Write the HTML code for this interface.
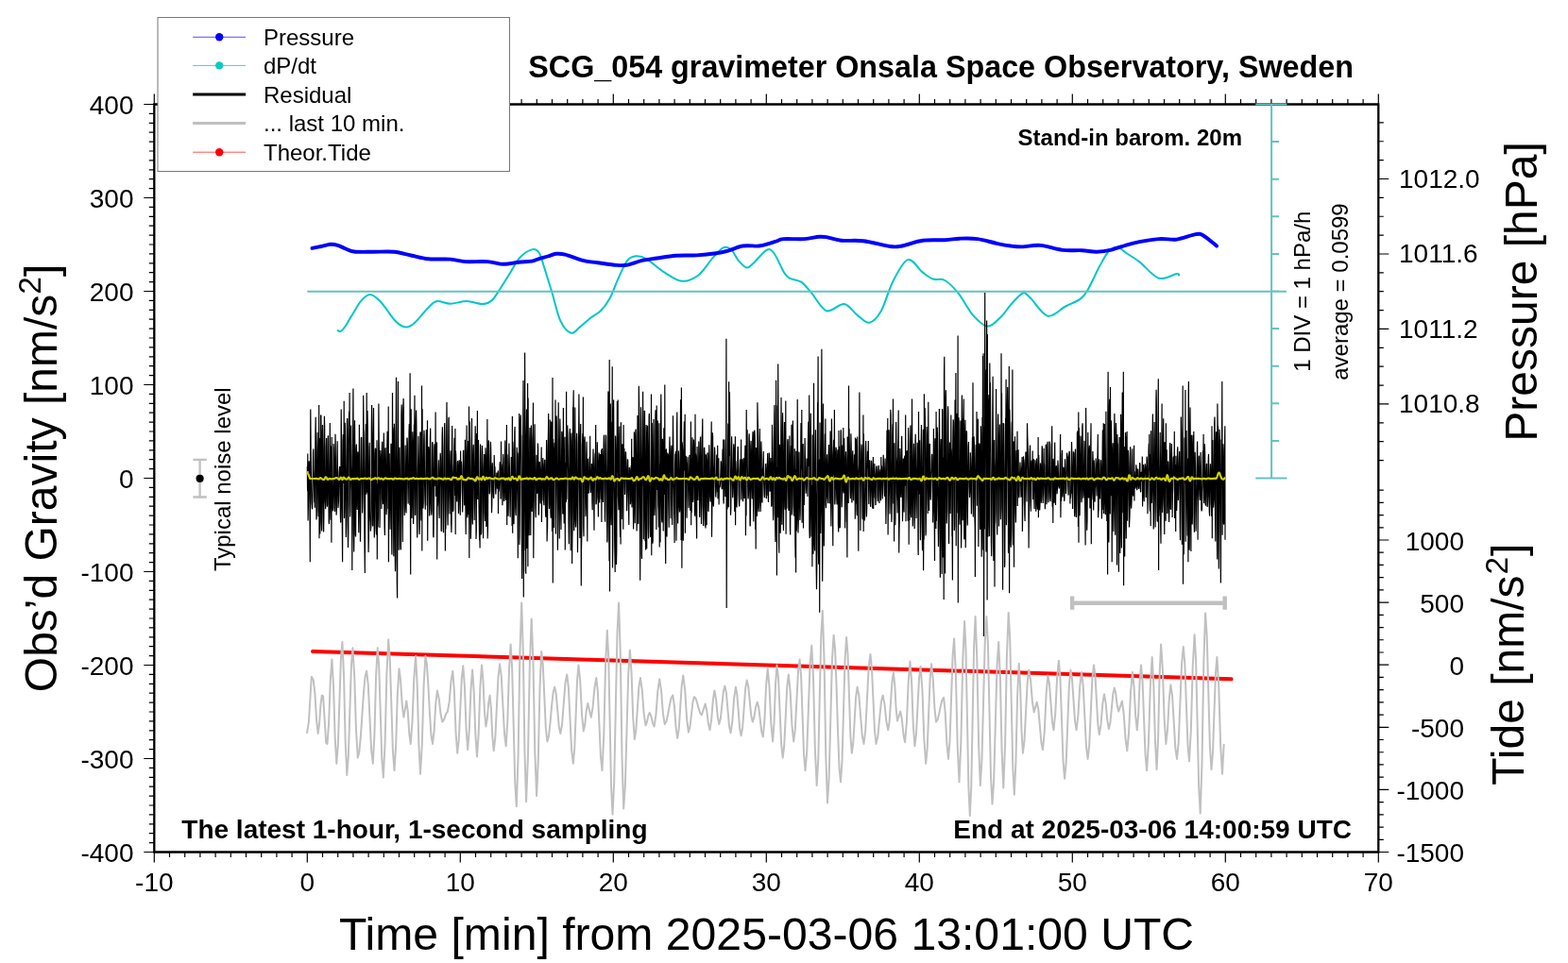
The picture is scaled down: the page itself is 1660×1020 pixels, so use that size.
<!DOCTYPE html>
<html><head><meta charset="utf-8"><title>SCG_054 gravimeter Onsala Space Observatory</title>
<style>html,body{margin:0;padding:0;background:#fff;overflow:hidden}svg{display:block}</style>
</head><body>
<svg width="1660" height="1020" viewBox="0 0 1660 1020" font-family="'Liberation Sans', Arial, Helvetica, sans-serif">
<rect width="1660" height="1020" fill="#fff"/>
<path d="M163.3 110.5H1459.3V902.5H163.3Z" fill="none" stroke="#000" stroke-width="2.3"/>
<path d="M163.3 902.5v11M163.3 110.5v-11M179.5 902.5v5.5M179.5 110.5v-5.5M195.7 902.5v5.5M195.7 110.5v-5.5M211.9 902.5v5.5M211.9 110.5v-5.5M228.1 902.5v5.5M228.1 110.5v-5.5M244.3 902.5v5.5M244.3 110.5v-5.5M260.5 902.5v5.5M260.5 110.5v-5.5M276.7 902.5v5.5M276.7 110.5v-5.5M292.9 902.5v5.5M292.9 110.5v-5.5M309.1 902.5v5.5M309.1 110.5v-5.5M325.3 902.5v11M325.3 110.5v-11M341.5 902.5v5.5M341.5 110.5v-5.5M357.7 902.5v5.5M357.7 110.5v-5.5M373.9 902.5v5.5M373.9 110.5v-5.5M390.1 902.5v5.5M390.1 110.5v-5.5M406.3 902.5v5.5M406.3 110.5v-5.5M422.5 902.5v5.5M422.5 110.5v-5.5M438.7 902.5v5.5M438.7 110.5v-5.5M454.9 902.5v5.5M454.9 110.5v-5.5M471.1 902.5v5.5M471.1 110.5v-5.5M487.3 902.5v11M487.3 110.5v-11M503.5 902.5v5.5M503.5 110.5v-5.5M519.7 902.5v5.5M519.7 110.5v-5.5M535.9 902.5v5.5M535.9 110.5v-5.5M552.1 902.5v5.5M552.1 110.5v-5.5M568.3 902.5v5.5M568.3 110.5v-5.5M584.5 902.5v5.5M584.5 110.5v-5.5M600.7 902.5v5.5M600.7 110.5v-5.5M616.9 902.5v5.5M616.9 110.5v-5.5M633.1 902.5v5.5M633.1 110.5v-5.5M649.3 902.5v11M649.3 110.5v-11M665.5 902.5v5.5M665.5 110.5v-5.5M681.7 902.5v5.5M681.7 110.5v-5.5M697.9 902.5v5.5M697.9 110.5v-5.5M714.1 902.5v5.5M714.1 110.5v-5.5M730.3 902.5v5.5M730.3 110.5v-5.5M746.5 902.5v5.5M746.5 110.5v-5.5M762.7 902.5v5.5M762.7 110.5v-5.5M778.9 902.5v5.5M778.9 110.5v-5.5M795.1 902.5v5.5M795.1 110.5v-5.5M811.3 902.5v11M811.3 110.5v-11M827.5 902.5v5.5M827.5 110.5v-5.5M843.7 902.5v5.5M843.7 110.5v-5.5M859.9 902.5v5.5M859.9 110.5v-5.5M876.1 902.5v5.5M876.1 110.5v-5.5M892.3 902.5v5.5M892.3 110.5v-5.5M908.5 902.5v5.5M908.5 110.5v-5.5M924.7 902.5v5.5M924.7 110.5v-5.5M940.9 902.5v5.5M940.9 110.5v-5.5M957.1 902.5v5.5M957.1 110.5v-5.5M973.3 902.5v11M973.3 110.5v-11M989.5 902.5v5.5M989.5 110.5v-5.5M1005.7 902.5v5.5M1005.7 110.5v-5.5M1021.9 902.5v5.5M1021.9 110.5v-5.5M1038.1 902.5v5.5M1038.1 110.5v-5.5M1054.3 902.5v5.5M1054.3 110.5v-5.5M1070.5 902.5v5.5M1070.5 110.5v-5.5M1086.7 902.5v5.5M1086.7 110.5v-5.5M1102.9 902.5v5.5M1102.9 110.5v-5.5M1119.1 902.5v5.5M1119.1 110.5v-5.5M1135.3 902.5v11M1135.3 110.5v-11M1151.5 902.5v5.5M1151.5 110.5v-5.5M1167.7 902.5v5.5M1167.7 110.5v-5.5M1183.9 902.5v5.5M1183.9 110.5v-5.5M1200.1 902.5v5.5M1200.1 110.5v-5.5M1216.3 902.5v5.5M1216.3 110.5v-5.5M1232.5 902.5v5.5M1232.5 110.5v-5.5M1248.7 902.5v5.5M1248.7 110.5v-5.5M1264.9 902.5v5.5M1264.9 110.5v-5.5M1281.1 902.5v5.5M1281.1 110.5v-5.5M1297.3 902.5v11M1297.3 110.5v-11M1313.5 902.5v5.5M1313.5 110.5v-5.5M1329.7 902.5v5.5M1329.7 110.5v-5.5M1345.9 902.5v5.5M1345.9 110.5v-5.5M1362.1 902.5v5.5M1362.1 110.5v-5.5M1378.3 902.5v5.5M1378.3 110.5v-5.5M1394.5 902.5v5.5M1394.5 110.5v-5.5M1410.7 902.5v5.5M1410.7 110.5v-5.5M1426.9 902.5v5.5M1426.9 110.5v-5.5M1443.1 902.5v5.5M1443.1 110.5v-5.5M1459.3 902.5v11M1459.3 110.5v-11M163.3 902.5h-11M163.3 892.6h-5.5M163.3 882.7h-5.5M163.3 872.8h-5.5M163.3 862.9h-5.5M163.3 853h-5.5M163.3 843.1h-5.5M163.3 833.2h-5.5M163.3 823.3h-5.5M163.3 813.4h-5.5M163.3 803.5h-11M163.3 793.6h-5.5M163.3 783.7h-5.5M163.3 773.8h-5.5M163.3 763.9h-5.5M163.3 754h-5.5M163.3 744.1h-5.5M163.3 734.2h-5.5M163.3 724.3h-5.5M163.3 714.4h-5.5M163.3 704.5h-11M163.3 694.6h-5.5M163.3 684.7h-5.5M163.3 674.8h-5.5M163.3 664.9h-5.5M163.3 655h-5.5M163.3 645.1h-5.5M163.3 635.2h-5.5M163.3 625.3h-5.5M163.3 615.4h-5.5M163.3 605.5h-11M163.3 595.6h-5.5M163.3 585.7h-5.5M163.3 575.8h-5.5M163.3 565.9h-5.5M163.3 556h-5.5M163.3 546.1h-5.5M163.3 536.2h-5.5M163.3 526.3h-5.5M163.3 516.4h-5.5M163.3 506.5h-11M163.3 496.6h-5.5M163.3 486.7h-5.5M163.3 476.8h-5.5M163.3 466.9h-5.5M163.3 457h-5.5M163.3 447.1h-5.5M163.3 437.2h-5.5M163.3 427.3h-5.5M163.3 417.4h-5.5M163.3 407.5h-11M163.3 397.6h-5.5M163.3 387.7h-5.5M163.3 377.8h-5.5M163.3 367.9h-5.5M163.3 358h-5.5M163.3 348.1h-5.5M163.3 338.2h-5.5M163.3 328.3h-5.5M163.3 318.4h-5.5M163.3 308.5h-11M163.3 298.6h-5.5M163.3 288.7h-5.5M163.3 278.8h-5.5M163.3 268.9h-5.5M163.3 259h-5.5M163.3 249.1h-5.5M163.3 239.2h-5.5M163.3 229.3h-5.5M163.3 219.4h-5.5M163.3 209.5h-11M163.3 199.6h-5.5M163.3 189.7h-5.5M163.3 179.8h-5.5M163.3 169.9h-5.5M163.3 160h-5.5M163.3 150.1h-5.5M163.3 140.2h-5.5M163.3 130.3h-5.5M163.3 120.4h-5.5M163.3 110.5h-11M1459.3 487.55h5.5M1459.3 467.68h5.5M1459.3 447.81h5.5M1459.3 427.94h11M1459.3 408.07h5.5M1459.3 388.2h5.5M1459.3 368.33h5.5M1459.3 348.46h11M1459.3 328.59h5.5M1459.3 308.72h5.5M1459.3 288.85h5.5M1459.3 268.98h11M1459.3 249.11h5.5M1459.3 229.24h5.5M1459.3 209.37h5.5M1459.3 189.5h11M1459.3 169.63h5.5M1459.3 149.76h5.5M1459.3 129.89h5.5M1459.3 902.5h11M1459.3 889.28h5.5M1459.3 876.06h5.5M1459.3 862.84h5.5M1459.3 849.62h5.5M1459.3 836.4h11M1459.3 823.18h5.5M1459.3 809.96h5.5M1459.3 796.74h5.5M1459.3 783.52h5.5M1459.3 770.3h11M1459.3 757.08h5.5M1459.3 743.86h5.5M1459.3 730.64h5.5M1459.3 717.42h5.5M1459.3 704.2h11M1459.3 690.98h5.5M1459.3 677.76h5.5M1459.3 664.54h5.5M1459.3 651.32h5.5M1459.3 638.1h11M1459.3 624.88h5.5M1459.3 611.66h5.5M1459.3 598.44h5.5M1459.3 585.22h5.5M1459.3 572h11M1459.3 558.78h5.5M1459.3 545.56h5.5M1459.3 532.34h5.5M1459.3 519.12h5.5" fill="none" stroke="#000" stroke-width="1.2"/>
<path d="M357.6 350C358.13 350.13 359.4 351.63 360.8 350.8C362.2 349.97 364.18 347.57 366 345C367.82 342.43 368.92 339.87 371.7 335.4C374.48 330.93 379.3 322.12 382.7 318.2C386.1 314.28 388.7 311.63 392.1 311.9C395.5 312.17 398.65 315.08 403.1 319.8C407.55 324.52 414.35 335.77 418.8 340.2C423.25 344.63 426.4 346.15 429.8 346.4C433.2 346.65 435.28 345.1 439.2 341.7C443.12 338.3 449.38 329.78 453.3 326C457.22 322.22 458.78 319.72 462.7 319C466.62 318.28 471.57 321.7 476.8 321.7C482.03 321.7 488.35 318.93 494.1 319C499.85 319.07 506.87 322.23 511.3 322.1C515.73 321.97 517.82 320.68 520.7 318.2C523.58 315.72 525.47 311.9 528.6 307.2C531.73 302.5 535.85 295.75 539.5 290C543.15 284.25 546.45 277.02 550.5 272.7C554.55 268.38 560.4 264.88 563.8 264.1C567.2 263.32 568.82 264.73 570.9 268C572.98 271.27 574.1 276.9 576.3 283.7C578.5 290.5 581.23 299.38 584.1 308.8C586.97 318.22 590.1 332.88 593.5 340.2C596.9 347.52 601.1 351.67 604.5 352.7C607.9 353.73 610.5 349.02 613.9 346.4C617.3 343.78 621.23 339.87 624.9 337C628.57 334.13 632.5 332.6 635.9 329.2C639.3 325.8 642.17 322.35 645.3 316.6C648.43 310.85 651.57 301.48 654.7 294.7C657.83 287.92 660.97 279.82 664.1 275.9C667.23 271.98 670.1 271.47 673.5 271.2C676.9 270.93 679.53 271.43 684.5 274.3C689.47 277.17 697.03 284.48 703.3 288.4C709.57 292.32 716.08 297.28 722.1 297.8C728.12 298.32 733.92 295.68 739.4 291.5C744.88 287.32 750.57 277.58 755 272.7C759.43 267.82 762.85 263.63 766 262.2C769.15 260.77 771.28 261.82 773.9 264.1C776.52 266.38 778.97 272.68 781.7 275.9C784.43 279.12 787.68 282.88 790.3 283.4C792.92 283.92 793.87 282.08 797.4 279C800.93 275.92 807.85 266.73 811.5 264.9C815.15 263.07 816.22 264.08 819.3 268C822.38 271.92 827.27 283.95 830 288.4C832.73 292.85 832.67 293 835.7 294.7C838.73 296.4 844.28 295.98 848.2 298.6C852.12 301.22 854.75 305.3 859.2 310.4C863.65 315.5 869.15 327.25 874.9 329.2C880.65 331.15 888.22 321.32 893.7 322.1C899.18 322.88 903.35 330.63 907.8 333.9C912.25 337.17 916.22 342.48 920.4 341.7C924.58 340.92 928.72 336.52 932.9 329.2C937.08 321.88 940.8 306.82 945.5 297.8C950.2 288.78 955.88 276.67 961.1 275.1C966.32 273.53 972.35 285 976.8 288.4C981.25 291.8 983.88 294.07 987.8 295.5C991.72 296.93 995.87 294.52 1000.3 297C1004.73 299.48 1009.43 304.25 1014.4 310.4C1019.37 316.55 1024.87 328.03 1030.1 333.9C1035.33 339.77 1040.83 345.35 1045.8 345.6C1050.77 345.85 1055.87 339.18 1059.9 335.4C1063.93 331.62 1066.23 327.02 1070 322.9C1073.77 318.78 1079.1 312 1082.5 310.7C1085.9 309.4 1085.95 311.1 1090.4 315.1C1094.85 319.1 1102.93 333.13 1109.2 334.7C1115.47 336.27 1122.25 327.52 1128 324.5C1133.75 321.48 1139.78 319.48 1143.7 316.6C1147.62 313.72 1148.1 312.95 1151.5 307.2C1154.9 301.45 1160.43 288.88 1164.1 282.1C1167.77 275.32 1170.37 269.9 1173.5 266.5C1176.63 263.1 1179.77 261.45 1182.9 261.7C1186.03 261.95 1188.38 265.38 1192.3 268C1196.22 270.62 1200.65 272.95 1206.4 277.4C1212.15 281.85 1220.27 292.6 1226.8 294.7C1233.33 296.8 1242.07 290.53 1245.6 290C1249.13 289.47 1247.6 291.25 1248 291.5" fill="none" stroke="#00c6c6" stroke-width="2" stroke-linecap="round" stroke-linejoin="round"/>
<path d="M330.5 262.9C332.08 262.58 336.75 261.68 340 261C343.25 260.32 347.07 258.98 350 258.8C352.93 258.62 354.93 259.12 357.6 259.9C360.27 260.68 363.12 262.4 366 263.5C368.88 264.6 370.07 265.95 374.9 266.5C379.73 267.05 387.95 266.75 395 266.8C402.05 266.85 410.53 266.18 417.2 266.8C423.87 267.42 428.98 269.25 435 270.5C441.02 271.75 446.33 273.62 453.3 274.3C460.27 274.98 470.27 274.13 476.8 274.6C483.33 275.07 485.97 276.68 492.5 277.1C499.03 277.52 509.2 276.65 516 277.1C522.8 277.55 527.8 279.7 533.3 279.8C538.8 279.9 544.03 278.23 549 277.7C553.97 277.17 559.6 277.17 563.1 276.6C566.6 276.03 567.18 275.15 570 274.3C572.82 273.45 576.87 272.42 580 271.5C583.13 270.58 585.77 269.12 588.8 268.8C591.83 268.48 593.5 268.42 598.2 269.6C602.9 270.78 611.25 274.47 617 275.9C622.75 277.33 626.68 277.37 632.7 278.2C638.72 279.03 647.87 280.5 653.1 280.9C658.33 281.3 659.65 281.43 664.1 280.6C668.55 279.77 674.58 277.08 679.8 275.9C685.02 274.72 689.4 274.35 695.4 273.5C701.4 272.65 708.73 271.32 715.8 270.8C722.87 270.28 730.73 270.82 737.8 270.4C744.87 269.98 752.72 269.08 758.2 268.3C763.68 267.52 766 267 770.7 265.7C775.4 264.4 780.92 261.37 786.4 260.5C791.88 259.63 798.9 260.95 803.6 260.5C808.3 260.05 811.53 258.63 814.6 257.8C817.67 256.97 819.53 256.28 822 255.5C824.47 254.72 824.5 253.5 829.4 253.1C834.3 252.7 845.13 253.48 851.4 253.1C857.67 252.72 863.08 251.13 867 250.8C870.92 250.47 870.97 250.45 874.9 251.1C878.83 251.75 884.07 254.02 890.6 254.7C897.13 255.38 905.48 254.15 914.1 255.2C922.72 256.25 935.5 260.12 942.3 261C949.1 261.88 949.15 261.55 954.9 260.5C960.65 259.45 969.23 255.75 976.8 254.7C984.37 253.65 993.77 254.53 1000.3 254.2C1006.83 253.87 1010.25 252.88 1016 252.7C1021.75 252.52 1028.27 252.25 1034.8 253.1C1041.33 253.95 1049.33 256.57 1055.2 257.8C1061.07 259.03 1065.45 259.9 1070 260.5C1074.55 261.1 1077.27 261.5 1082.5 261.4C1087.73 261.3 1094.33 259.32 1101.4 259.9C1108.47 260.48 1117.58 264.02 1124.9 264.9C1132.22 265.78 1139.28 264.88 1145.3 265.2C1151.32 265.52 1155.78 266.9 1161 266.8C1166.22 266.7 1170.33 266.1 1176.6 264.6C1182.87 263.1 1190.23 259.72 1198.6 257.8C1206.97 255.88 1218.97 253.8 1226.8 253.1C1234.63 252.4 1239.07 254.43 1245.6 253.6C1252.13 252.77 1261.28 248.78 1266 248.1C1270.72 247.42 1270.23 247.43 1273.9 249.5C1277.57 251.57 1285.65 258.67 1288 260.5" fill="none" stroke="#0000ff" stroke-width="3.9" stroke-linecap="round" stroke-linejoin="round"/>
<path d="M325.3 308.8H1362M1346.1 110.5V506.5M1329.3 110.5H1362.5M1329.3 506.5H1362.5M1346.1 150.1h8M1346.1 189.7h8M1346.1 229.3h8M1346.1 268.9h8M1346.1 308.5h8M1346.1 348.1h8M1346.1 387.7h8M1346.1 427.3h8M1346.1 466.9h8" fill="none" stroke="#64c2c2" stroke-width="2"/>
<path d="M325.3 494.2 325.6 520.3 325.8 480.6 326.1 551.5 326.4 536.4 326.7 511.1 326.9 492.0 327.2 488.2 327.5 501.0 327.7 519.8 328.0 539.3 328.3 595.3 328.5 496.6 328.8 433.5 329.1 470.3 329.4 500.7 329.6 512.8 329.9 532.4 330.2 536.4 330.4 539.3 330.7 538.2 331.0 523.5 331.2 507.7 331.5 479.5 331.8 475.4 332.1 498.0 332.3 501.3 332.6 518.9 332.9 532.3 333.1 526.4 333.4 537.7 333.7 491.3 333.9 460.0 334.2 441.8 334.5 484.0 334.8 514.8 335.0 550.4 335.3 546.0 335.6 516.0 335.8 477.1 336.1 457.9 336.4 475.8 336.6 498.6 336.9 540.3 337.2 547.2 337.4 534.3 337.7 429.0 338.0 570.3 338.3 464.1 338.5 541.9 338.8 565.5 339.1 553.0 339.3 503.6 339.6 440.1 339.9 439.7 340.2 505.1 340.4 552.2 340.7 562.5 341.0 492.8 341.2 460.1 341.5 449.9 341.8 474.4 342.0 529.1 342.3 550.7 342.6 563.5 342.9 544.9 343.1 475.6 343.4 440.8 343.7 453.2 343.9 496.4 344.2 530.9 344.5 534.9 344.7 539.3 345.0 530.0 345.3 473.2 345.6 464.0 345.8 494.0 346.1 518.3 346.4 536.7 346.6 534.3 346.9 496.5 347.2 464.1 347.4 461.3 347.7 493.7 348.0 534.7 348.2 552.7 348.5 555.1 348.8 524.8 349.1 477.4 349.3 448.0 349.6 496.7 349.9 540.7 350.1 550.8 350.4 520.8 350.7 472.4 350.9 574.7 351.2 463.1 351.5 510.4 351.8 520.8 352.0 526.4 352.3 541.3 352.6 539.2 352.8 516.4 353.1 470.0 353.4 474.4 353.7 496.2 353.9 524.0 354.2 538.2 354.5 541.9 354.7 499.0 355.0 459.8 355.3 473.8 355.5 499.5 355.8 530.6 356.1 545.6 356.4 540.1 356.6 510.1 356.9 486.1 357.2 467.3 357.4 495.1 357.7 523.9 358.0 538.0 358.2 535.3 358.5 530.8 358.8 511.9 359.1 499.5 359.3 497.3 359.6 494.0 359.9 495.6 360.1 521.9 360.4 547.6 360.7 553.6 360.9 513.0 361.2 433.5 361.5 459.6 361.8 500.3 362.0 537.5 362.3 554.8 362.6 595.3 362.8 518.6 363.1 466.4 363.4 460.0 363.6 488.0 363.9 512.0 364.2 424.7 364.5 549.1 364.7 539.9 365.0 490.6 365.3 447.7 365.5 467.4 365.8 503.2 366.1 548.0 366.3 569.1 366.6 553.3 366.9 510.7 367.2 463.8 367.4 447.9 367.7 443.1 368.0 514.7 368.2 559.5 368.5 580.1 368.8 563.3 369.0 468.6 369.3 448.1 369.6 435.8 369.9 460.5 370.1 415.9 370.4 534.5 370.7 547.6 370.9 540.7 371.2 504.3 371.5 454.8 371.7 450.5 372.0 493.1 372.3 507.9 372.6 521.5 372.8 604.0 373.1 533.5 373.4 486.3 373.6 460.6 373.9 411.5 374.2 480.2 374.4 561.9 374.7 584.6 375.0 558.2 375.2 496.3 375.5 445.3 375.8 474.2 376.1 538.7 376.3 566.5 376.6 568.5 376.9 519.6 377.1 474.9 377.4 470.5 377.7 498.1 378.0 535.2 378.2 540.1 378.5 500.9 378.8 478.4 379.0 480.2 379.3 488.8 379.6 552.3 379.8 564.3 380.1 507.5 380.4 449.8 380.7 496.3 380.9 527.8 381.2 546.6 381.5 573.8 381.7 556.6 382.0 502.6 382.3 465.2 382.5 463.1 382.8 463.5 383.1 494.7 383.4 526.0 383.6 543.6 383.9 536.3 384.2 522.6 384.4 502.9 384.7 418.8 385.0 455.9 385.2 456.7 385.5 487.8 385.8 553.3 386.1 588.2 386.3 607.0 386.6 524.5 386.9 490.9 387.1 461.8 387.4 449.1 387.7 468.7 387.9 523.8 388.2 415.9 388.5 521.7 388.8 490.9 389.0 435.1 389.3 452.8 389.6 511.1 389.8 543.0 390.1 585.0 390.4 568.0 390.6 504.6 390.9 474.2 391.2 468.7 391.5 504.1 391.7 548.6 392.0 553.6 392.3 562.7 392.5 560.5 392.8 557.4 393.1 539.0 393.3 453.4 393.6 429.0 393.9 459.4 394.2 495.2 394.4 555.6 394.7 557.4 395.0 526.2 395.2 460.8 395.5 431.9 395.8 485.5 396.0 547.7 396.3 569.6 396.6 557.3 396.9 501.9 397.1 480.6 397.4 474.8 397.7 475.5 397.9 521.3 398.2 561.4 398.5 566.5 398.7 510.6 399.0 466.2 399.3 592.4 399.6 512.2 399.8 556.1 400.1 558.4 400.4 547.9 400.6 507.2 400.9 427.6 401.2 467.6 401.4 476.5 401.7 503.9 402.0 558.9 402.2 548.2 402.5 506.4 402.8 477.0 403.1 482.4 403.3 500.1 403.6 508.3 403.9 539.1 404.1 527.8 404.4 475.4 404.7 467.8 405.0 501.1 405.2 523.4 405.5 534.1 405.8 527.6 406.0 502.0 406.3 458.5 406.6 482.1 406.8 527.5 407.1 558.8 407.4 567.1 407.7 505.3 407.9 475.0 408.2 474.9 408.5 495.3 408.7 515.1 409.0 545.2 409.3 541.1 409.5 513.4 409.8 475.0 410.1 456.8 410.4 474.8 410.6 486.9 410.9 539.0 411.2 430.6 411.4 595.3 411.7 516.1 412.0 480.8 412.2 480.8 412.5 504.4 412.8 538.1 413.1 560.8 413.3 537.9 413.6 512.2 413.9 469.8 414.1 470.5 414.4 524.6 414.7 576.0 414.9 587.5 415.2 538.9 415.5 415.9 415.8 484.6 416.0 452.8 416.3 467.2 416.6 547.3 416.8 589.3 417.1 527.8 417.4 448.8 417.6 456.5 417.9 519.5 418.2 582.0 418.5 605.3 418.7 594.7 419.0 476.1 419.3 431.7 419.5 399.7 419.8 476.8 420.1 551.0 420.3 618.1 420.6 633.5 420.9 504.8 421.2 474.1 421.4 404.0 421.7 481.1 422.0 548.1 422.2 582.8 422.5 533.0 422.8 477.6 423.0 473.8 423.3 493.3 423.6 515.2 423.9 577.6 424.1 582.2 424.4 581.9 424.7 524.3 424.9 440.6 425.2 428.6 425.5 438.1 425.7 490.5 426.0 532.8 426.3 573.9 426.6 502.2 426.8 433.3 427.1 422.1 427.4 436.1 427.6 502.1 427.9 534.7 428.2 545.9 428.4 541.2 428.7 527.9 429.0 478.1 429.2 471.5 429.5 515.1 429.8 539.8 430.1 543.4 430.3 520.8 430.6 485.8 430.9 464.1 431.1 463.6 431.4 470.5 431.7 510.6 432.0 529.0 432.2 533.6 432.5 505.3 432.8 488.7 433.0 458.5 433.3 448.9 433.6 496.2 433.8 535.1 434.1 395.3 434.4 531.1 434.7 608.5 434.9 458.0 435.2 433.2 435.5 497.9 435.7 508.1 436.0 549.0 436.3 535.1 436.5 473.9 436.8 457.2 437.1 469.2 437.4 489.7 437.6 555.0 437.9 544.2 438.2 473.8 438.4 449.5 438.7 458.3 439.0 418.8 439.2 512.6 439.5 545.7 439.8 545.0 440.1 508.8 440.3 446.6 440.6 434.6 440.9 450.0 441.1 496.5 441.4 548.6 441.7 569.5 441.9 563.3 442.2 519.7 442.5 497.1 442.8 479.2 443.0 462.0 443.3 482.3 443.6 505.7 443.8 552.6 444.1 566.1 444.4 557.7 444.6 496.8 444.9 457.4 445.2 458.6 445.5 495.4 445.7 539.6 446.0 551.6 446.3 541.3 446.5 408.5 446.8 583.5 447.1 433.2 447.3 503.8 447.6 520.8 447.9 538.4 448.2 533.1 448.4 490.9 448.7 466.0 449.0 455.8 449.2 461.6 449.5 508.6 449.8 524.8 450.0 531.5 450.3 539.7 450.6 515.1 450.9 495.2 451.1 470.8 451.4 455.0 451.7 457.3 451.9 490.0 452.2 535.5 452.5 445.3 452.7 572.7 453.0 522.4 453.3 485.3 453.6 474.4 453.8 473.0 454.1 475.5 454.4 522.2 454.6 546.5 454.9 543.7 455.2 515.6 455.4 466.9 455.7 453.5 456.0 513.4 456.2 532.2 456.5 540.8 456.8 545.7 457.1 541.6 457.3 505.3 457.6 469.3 457.9 468.1 458.1 474.9 458.4 498.0 458.7 567.2 459.0 569.3 459.2 547.4 459.5 514.8 459.8 474.3 460.0 470.4 460.3 482.6 460.6 494.1 460.8 515.1 461.1 436.5 461.4 526.1 461.7 491.5 461.9 472.5 462.2 468.5 462.5 469.4 462.7 592.4 463.0 523.5 463.3 536.3 463.5 533.7 463.8 515.3 464.1 495.3 464.4 487.3 464.6 518.4 464.9 544.3 465.2 549.0 465.4 519.3 465.7 501.5 466.0 486.9 466.2 479.8 466.5 485.1 466.8 521.0 467.1 562.2 467.3 562.3 467.6 519.7 467.9 485.3 468.1 461.3 468.4 452.2 468.7 474.5 468.9 525.7 469.2 560.8 469.5 564.3 469.8 537.4 470.0 514.9 470.3 477.2 470.6 450.2 470.8 448.1 471.1 468.5 471.4 583.5 471.6 555.9 471.9 560.3 472.2 538.9 472.5 505.7 472.7 459.0 473.0 426.0 473.3 465.5 473.5 495.9 473.8 542.1 474.1 556.6 474.3 541.1 474.6 495.8 474.9 444.3 475.2 441.7 475.4 487.2 475.7 524.4 476.0 544.6 476.2 526.0 476.5 506.0 476.8 482.8 477.0 477.3 477.3 498.3 477.6 553.0 477.9 564.1 478.1 552.5 478.4 481.7 478.7 450.9 478.9 489.5 479.2 502.9 479.5 541.6 479.7 541.8 480.0 538.7 480.3 506.7 480.6 489.8 480.8 474.2 481.1 463.8 481.4 496.0 481.6 525.1 481.9 454.0 482.2 565.9 482.4 477.6 482.7 482.4 483.0 502.6 483.2 514.8 483.5 529.1 483.8 531.4 484.1 511.3 484.3 490.4 484.6 488.1 484.9 496.4 485.1 521.4 485.4 543.9 485.7 520.8 486.0 492.5 486.2 487.3 486.5 495.8 486.8 525.4 487.0 540.6 487.3 545.7 487.6 477.6 487.8 503.2 488.1 490.3 488.4 488.8 488.7 493.0 488.9 503.7 489.2 521.8 489.5 526.7 489.7 542.4 490.0 531.1 490.3 492.9 490.5 477.5 490.8 477.4 491.1 509.2 491.4 514.0 491.6 535.3 491.9 534.1 492.2 500.7 492.4 465.8 492.7 497.8 493.0 550.6 493.2 566.1 493.5 517.1 493.8 477.6 494.1 450.5 494.3 489.5 494.6 546.2 494.9 548.5 495.1 522.6 495.4 481.0 495.7 467.1 495.9 498.1 496.2 545.2 496.5 430.6 496.8 590.9 497.0 492.2 497.3 446.5 497.6 481.4 497.8 501.8 498.1 536.8 498.4 570.8 498.6 559.9 498.9 547.3 499.2 467.7 499.5 442.9 499.7 491.8 500.0 525.2 500.3 555.5 500.5 537.8 500.8 486.2 501.1 472.8 501.3 470.7 501.6 490.8 501.9 518.1 502.2 550.9 502.4 538.0 502.7 518.6 503.0 469.7 503.2 451.3 503.5 478.0 503.8 526.4 504.0 571.0 504.3 562.4 504.6 459.1 504.9 467.3 505.1 524.5 505.4 435.0 505.7 528.9 505.9 491.9 506.2 473.0 506.5 465.9 506.7 490.8 507.0 534.1 507.3 554.4 507.6 572.2 507.8 565.3 508.1 580.6 508.4 487.6 508.6 470.6 508.9 479.3 509.2 524.2 509.4 566.5 509.7 563.4 510.0 522.6 510.2 503.0 510.5 472.1 510.8 480.7 511.1 494.1 511.3 541.7 511.6 570.2 511.9 525.7 512.1 515.7 512.4 499.1 512.7 481.0 513.0 492.3 513.2 543.3 513.5 552.1 513.8 515.1 514.0 474.3 514.3 480.2 514.6 497.4 514.8 558.0 515.1 551.2 515.4 499.8 515.7 479.5 515.9 444.0 516.2 570.6 516.5 557.8 516.7 509.6 517.0 501.2 517.3 466.4 517.5 470.5 517.8 506.8 518.1 522.7 518.4 523.2 518.6 520.5 518.9 503.0 519.2 479.9 519.4 467.8 519.7 476.4 520.0 501.7 520.2 506.6 520.5 543.2 520.8 534.4 521.0 498.6 521.3 490.3 521.6 503.3 521.9 508.5 522.1 520.8 522.4 527.0 522.7 527.8 522.9 515.0 523.2 482.0 523.5 496.0 523.8 493.7 524.0 496.0 524.3 506.2 524.6 518.4 524.8 523.6 525.1 518.9 525.4 508.7 525.6 505.8 525.9 500.6 526.2 502.0 526.5 517.8 526.7 515.8 527.0 503.3 527.3 498.4 527.5 544.0 527.8 509.7 528.1 519.2 528.3 520.6 528.6 513.2 528.9 500.3 529.2 490.0 529.4 489.1 529.7 494.6 530.0 527.6 530.2 528.6 530.5 467.6 530.8 496.2 531.0 491.2 531.3 495.3 531.6 509.1 531.9 535.3 532.1 529.7 532.4 504.9 532.7 480.9 532.9 485.1 533.2 506.0 533.5 524.2 533.7 530.9 534.0 527.7 534.3 512.6 534.5 486.0 534.8 466.4 535.1 498.1 535.4 526.9 535.6 530.0 535.9 520.4 536.2 501.6 536.4 450.0 536.7 555.9 537.0 481.2 537.2 487.4 537.5 519.4 537.8 532.6 538.1 546.8 538.3 535.1 538.6 497.6 538.9 469.6 539.1 481.9 539.4 496.2 539.7 522.1 540.0 540.2 540.2 547.7 540.5 519.7 540.8 506.6 541.0 501.9 541.3 483.9 541.6 488.1 541.8 512.8 542.1 557.1 542.4 441.0 542.7 564.7 542.9 467.8 543.2 476.1 543.5 516.0 543.7 551.7 544.0 555.2 544.3 537.9 544.5 500.0 544.8 458.1 545.1 451.9 545.4 502.1 545.6 533.7 545.9 543.6 546.2 546.3 546.4 535.3 546.7 504.4 547.0 485.0 547.2 473.7 547.5 482.5 547.8 519.1 548.1 542.9 548.3 591.2 548.6 510.3 548.9 479.5 549.1 485.0 549.4 498.6 549.7 438.0 549.9 576.9 550.2 568.0 550.5 530.2 550.8 471.2 551.0 446.6 551.3 439.5 551.6 461.7 551.8 461.0 552.1 493.2 552.4 566.5 552.6 612.9 552.9 580.3 553.2 533.3 553.5 493.5 553.7 452.6 554.0 403.0 554.3 632.4 554.5 568.3 554.8 583.1 555.1 535.8 555.3 507.1 555.6 373.5 555.9 449.5 556.2 489.7 556.4 605.3 556.7 607.8 557.0 509.1 557.2 461.4 557.5 433.5 557.8 516.8 558.0 581.0 558.3 575.3 558.6 406.0 558.9 600.0 559.1 421.4 559.4 483.6 559.7 503.3 559.9 548.6 560.2 567.2 560.5 535.3 560.7 466.3 561.0 453.1 561.3 497.3 561.6 528.5 561.8 566.9 562.1 503.7 562.4 450.5 562.6 459.5 562.9 507.6 563.2 542.0 563.4 536.6 563.7 516.3 564.0 464.2 564.2 459.0 564.5 426.5 564.8 591.2 565.1 546.3 565.3 533.4 565.6 500.6 565.9 473.3 566.1 449.2 566.4 486.8 566.7 512.7 567.0 545.2 567.2 548.2 567.5 526.0 567.8 494.3 568.0 481.8 568.3 482.8 568.6 522.9 568.8 521.8 569.1 503.9 569.4 469.6 569.7 475.4 569.9 505.7 570.2 545.7 570.5 543.8 570.7 508.0 571.0 489.5 571.3 489.2 571.5 508.6 571.8 525.1 572.1 533.5 572.4 512.4 572.6 497.3 572.9 491.4 573.2 473.5 573.4 553.0 573.7 522.2 574.0 530.3 574.2 516.6 574.5 496.4 574.8 485.0 575.1 491.4 575.3 507.6 575.6 531.7 575.9 535.2 576.1 518.4 576.4 493.6 576.7 486.9 576.9 487.3 577.2 512.1 577.5 540.4 577.8 547.7 578.0 541.0 578.3 495.6 578.6 466.1 578.8 477.1 579.1 573.5 579.4 562.2 579.6 557.6 579.9 509.3 580.2 470.9 580.5 456.9 580.7 438.0 581.0 508.7 581.3 532.8 581.5 539.1 581.8 529.0 582.1 474.7 582.3 444.5 582.6 490.4 582.9 543.1 583.2 548.8 583.4 472.4 583.7 446.6 584.0 460.2 584.2 507.2 584.5 563.0 584.8 511.4 585.0 400.0 585.3 617.6 585.6 464.9 585.9 498.5 586.1 552.6 586.4 559.1 586.7 516.0 586.9 476.0 587.2 468.7 587.5 500.7 587.7 509.5 588.0 423.5 588.3 565.6 588.5 522.7 588.8 465.9 589.1 440.4 589.4 450.2 589.6 480.3 589.9 525.3 590.2 549.6 590.4 582.7 590.7 550.0 591.0 457.6 591.2 426.3 591.5 491.0 591.8 527.1 592.1 545.5 592.3 570.6 592.6 469.5 592.9 443.5 593.1 455.2 593.4 501.3 593.7 547.7 594.0 560.9 594.2 525.5 594.5 492.1 594.8 456.9 595.0 459.4 595.3 499.9 595.6 535.8 595.8 544.6 596.1 499.2 596.4 431.9 596.7 479.4 596.9 539.0 597.2 554.4 597.5 547.3 597.7 503.3 598.0 462.8 598.3 582.4 598.5 490.0 598.8 500.0 599.1 527.8 599.4 531.9 599.6 414.7 599.9 529.1 600.2 508.5 600.4 465.9 600.7 450.5 601.0 459.6 601.2 470.8 601.5 494.3 601.8 509.5 602.0 550.3 602.3 576.3 602.6 535.9 602.9 476.4 603.1 459.1 603.4 453.9 603.7 477.2 603.9 543.4 604.2 583.2 604.5 508.7 604.8 466.2 605.0 458.6 605.3 473.9 605.6 597.0 605.8 576.5 606.1 557.8 606.4 497.1 606.6 431.3 606.9 434.1 607.2 413.2 607.5 542.9 607.7 562.3 608.0 555.0 608.3 526.2 608.5 492.5 608.8 431.4 609.1 492.0 609.3 550.8 609.6 558.4 609.9 550.9 610.2 519.4 610.4 466.6 610.7 458.8 611.0 469.7 611.2 525.0 611.5 585.3 611.8 551.6 612.0 532.0 612.3 506.8 612.6 466.1 612.9 417.6 613.1 446.0 613.4 476.9 613.7 546.4 613.9 569.9 614.2 488.9 614.5 462.1 614.7 449.1 615.0 518.3 615.3 620.6 615.5 583.2 615.8 569.6 616.1 541.9 616.4 471.3 616.6 467.0 616.9 459.0 617.2 470.7 617.4 420.6 617.7 559.1 618.0 568.3 618.2 531.4 618.5 469.1 618.8 465.5 619.1 462.4 619.3 486.7 619.6 522.5 619.9 547.3 620.1 544.5 620.4 531.4 620.7 483.0 621.0 467.8 621.2 478.9 621.5 531.6 621.8 573.5 622.0 516.8 622.3 485.7 622.6 498.1 622.8 515.5 623.1 522.8 623.4 518.0 623.7 509.7 623.9 490.6 624.2 483.8 624.5 500.5 624.7 461.8 625.0 517.2 625.3 521.9 625.5 519.0 625.8 511.2 626.1 498.2 626.4 491.1 626.6 499.4 626.9 531.4 627.2 540.3 627.4 520.4 627.7 492.5 628.0 475.4 628.2 484.4 628.5 499.2 628.8 543.8 629.0 561.8 629.3 519.3 629.6 498.9 629.9 483.8 630.1 479.9 630.4 491.3 630.7 450.0 630.9 533.8 631.2 534.3 631.5 530.1 631.8 526.6 632.0 504.7 632.3 468.3 632.6 482.1 632.8 495.7 633.1 522.7 633.4 547.4 633.6 515.0 633.9 488.5 634.2 479.5 634.5 521.1 634.7 532.4 635.0 517.2 635.3 488.2 635.5 480.9 635.8 491.6 636.1 504.6 636.3 528.7 636.6 476.5 636.9 553.0 637.2 505.6 637.4 474.9 637.7 482.6 638.0 508.8 638.2 527.4 638.5 531.9 638.8 503.5 639.0 476.2 639.3 462.8 639.6 460.7 639.9 470.8 640.1 518.2 640.4 548.2 640.7 552.7 640.9 534.2 641.2 495.4 641.5 460.6 641.7 462.3 642.0 486.3 642.3 503.4 642.5 536.9 642.8 574.6 643.1 571.8 643.4 533.0 643.6 450.4 643.9 414.5 644.2 422.6 644.4 487.9 644.7 561.3 645.0 594.3 645.2 380.9 645.5 626.5 645.8 499.6 646.1 449.2 646.3 427.6 646.6 494.2 646.9 547.9 647.1 556.3 647.4 521.7 647.7 446.8 648.0 459.6 648.2 388.2 648.5 601.4 648.8 577.5 649.0 478.0 649.3 448.0 649.6 423.4 649.8 453.1 650.1 513.1 650.4 536.5 650.7 574.3 650.9 586.2 651.2 605.9 651.5 461.5 651.7 462.7 652.0 478.4 652.3 536.2 652.5 598.1 652.8 583.4 653.1 496.0 653.4 425.1 653.6 490.4 653.9 500.3 654.2 423.5 654.4 525.3 654.7 531.9 655.0 540.3 655.2 482.4 655.5 464.9 655.8 451.5 656.0 513.6 656.3 555.4 656.6 568.9 656.9 551.7 657.1 576.5 657.4 447.3 657.7 480.7 657.9 542.7 658.2 549.9 658.5 494.8 658.8 470.4 659.0 472.1 659.3 481.4 659.6 536.1 659.8 560.7 660.1 450.0 660.4 501.2 660.6 481.6 660.9 475.1 661.2 509.2 661.5 524.0 661.7 520.9 662.0 494.5 662.3 478.4 662.5 478.9 662.8 486.0 663.1 502.4 663.3 521.3 663.6 541.2 663.9 521.7 664.2 498.6 664.4 486.3 664.7 487.5 665.0 506.7 665.2 521.2 665.5 538.2 665.8 555.9 666.0 507.1 666.3 495.0 666.6 495.7 666.9 499.0 667.1 514.3 667.4 534.2 667.7 531.4 667.9 507.0 668.2 493.0 668.5 498.4 668.7 464.7 669.0 537.4 669.3 522.5 669.5 501.9 669.8 484.2 670.1 484.8 670.4 544.9 670.6 560.4 670.9 542.9 671.2 503.8 671.4 457.6 671.7 462.6 672.0 528.4 672.2 554.2 672.5 527.9 672.8 456.7 673.1 454.6 673.3 466.9 673.6 495.3 673.9 515.2 674.1 562.4 674.4 552.4 674.7 481.6 675.0 439.9 675.2 500.2 675.5 552.8 675.8 555.0 676.0 536.1 676.3 408.8 676.6 426.6 676.8 443.8 677.1 506.8 677.4 545.9 677.7 614.7 677.9 541.6 678.2 492.0 678.5 431.3 678.7 447.0 679.0 513.3 679.3 587.7 679.5 591.9 679.8 523.2 680.1 484.3 680.4 450.4 680.6 414.7 680.9 472.5 681.2 516.5 681.4 571.3 681.7 547.7 682.0 478.3 682.2 435.0 682.5 435.6 682.8 510.4 683.0 573.2 683.3 539.5 683.6 582.4 683.9 479.5 684.1 450.0 684.4 536.6 684.7 581.2 684.9 519.4 685.2 464.4 685.5 450.8 685.8 478.7 686.0 512.6 686.3 560.0 686.6 570.5 686.8 509.2 687.1 441.1 687.4 437.9 687.6 475.8 687.9 505.6 688.2 555.4 688.5 568.9 688.7 563.6 689.0 546.9 689.3 505.2 689.5 417.6 689.8 588.2 690.1 451.5 690.3 447.9 690.6 498.5 690.9 575.7 691.2 572.8 691.4 541.4 691.7 470.9 692.0 443.9 692.2 455.7 692.5 528.2 692.8 545.9 693.0 545.5 693.3 537.4 693.6 496.9 693.9 440.6 694.1 434.3 694.4 444.9 694.7 510.3 694.9 561.0 695.2 429.4 695.5 518.9 695.7 455.2 696.0 446.0 696.3 445.7 696.5 499.0 696.8 534.5 697.1 540.7 697.4 558.6 697.6 535.3 697.9 448.2 698.2 579.4 698.4 491.5 698.7 527.1 699.0 574.5 699.2 523.7 699.5 449.4 699.8 417.6 700.1 459.8 700.3 525.6 700.6 549.9 700.9 553.4 701.1 510.2 701.4 464.8 701.7 474.4 702.0 509.2 702.2 562.5 702.5 519.0 702.8 453.2 703.0 457.4 703.3 467.7 703.6 524.1 703.8 407.4 704.1 549.3 704.4 570.6 704.7 597.0 704.9 511.2 705.2 476.8 705.5 475.5 705.7 539.3 706.0 568.4 706.3 519.3 706.5 499.6 706.8 479.6 707.1 481.8 707.4 481.1 707.6 525.4 707.9 544.6 708.2 558.7 708.4 504.9 708.7 478.1 709.0 462.6 709.2 473.2 709.5 488.4 709.8 509.6 710.0 549.3 710.3 505.4 710.6 477.4 710.9 471.8 711.1 496.2 711.4 531.9 711.7 556.1 711.9 525.4 712.2 481.7 712.5 440.3 712.8 473.3 713.0 506.8 713.3 518.8 713.6 543.2 713.8 549.5 714.1 575.1 714.4 514.3 714.6 491.7 714.9 480.7 715.2 483.5 715.5 477.9 715.7 515.7 716.0 572.8 716.3 529.9 716.5 455.6 716.8 436.5 717.1 501.3 717.3 518.6 717.6 554.6 717.9 541.9 718.2 525.4 718.4 477.6 718.7 488.8 719.0 507.6 719.2 536.9 719.5 542.5 719.8 539.6 720.0 509.7 720.3 457.6 720.6 423.2 720.9 466.0 721.1 572.2 721.4 410.5 721.7 492.5 721.9 601.8 722.2 468.2 722.5 473.4 722.7 476.3 723.0 558.9 723.3 572.7 723.5 545.6 723.8 490.0 724.1 462.2 724.4 446.4 724.6 462.9 724.9 498.8 725.2 438.7 725.4 564.7 725.7 515.0 726.0 499.2 726.2 482.7 726.5 486.7 726.8 520.8 727.1 548.8 727.3 504.1 727.6 491.2 727.9 490.2 728.1 483.7 728.4 503.9 728.7 522.8 729.0 538.3 729.2 535.3 729.5 507.3 729.8 490.8 730.0 481.9 730.3 483.7 730.6 519.4 730.8 541.1 731.1 511.5 731.4 446.6 731.7 556.3 731.9 510.6 732.2 543.0 732.5 509.0 732.7 489.4 733.0 463.2 733.3 509.1 733.5 531.9 733.8 528.2 734.1 486.0 734.4 465.6 734.6 469.8 734.9 491.7 735.2 518.7 735.4 540.4 735.7 546.8 736.0 438.7 736.2 488.1 736.5 480.6 736.8 484.2 737.0 543.2 737.3 550.8 737.6 570.4 737.9 490.6 738.1 473.1 738.4 492.7 738.7 501.0 738.9 530.1 739.2 515.9 739.5 507.0 739.8 467.6 740.0 475.6 740.3 507.0 740.6 547.8 740.8 546.8 741.1 520.8 741.4 464.7 741.6 462.5 741.9 481.7 742.2 530.3 742.5 554.9 742.7 527.0 743.0 502.5 743.3 460.7 743.5 459.8 743.8 443.4 744.1 535.8 744.3 541.6 744.6 556.9 744.9 548.3 745.2 514.0 745.4 475.5 745.7 473.8 746.0 480.5 746.2 531.6 746.5 557.6 746.8 512.8 747.0 559.4 747.3 481.2 747.6 486.0 747.9 527.0 748.1 556.3 748.4 521.8 748.7 497.7 748.9 480.1 749.2 479.4 749.5 518.1 749.7 540.1 750.0 541.9 750.3 529.8 750.5 491.1 750.8 471.2 751.1 483.9 751.4 505.7 751.6 525.5 751.9 529.3 752.2 531.4 752.4 522.8 752.7 492.3 753.0 465.3 753.2 446.6 753.5 568.8 753.8 543.9 754.1 500.1 754.3 458.3 754.6 462.4 754.9 508.9 755.1 534.2 755.4 536.6 755.7 525.8 756.0 495.7 756.2 489.9 756.5 473.5 756.8 478.8 757.0 501.3 757.3 507.9 757.6 521.8 757.8 526.6 758.1 520.7 758.4 507.6 758.7 483.5 758.9 481.5 759.2 489.9 759.5 521.3 759.7 471.7 760.0 528.2 760.3 504.5 760.5 489.7 760.8 485.2 761.1 534.4 761.4 514.4 761.6 515.0 761.9 516.2 762.2 515.4 762.4 514.0 762.7 506.8 763.0 496.8 763.2 488.2 763.5 490.9 763.8 506.9 764.1 516.0 764.3 517.7 764.6 517.5 764.9 480.6 765.1 475.6 765.4 486.6 765.7 465.4 765.9 529.5 766.2 533.6 766.5 507.0 766.8 484.3 767.0 465.5 767.3 492.4 767.6 512.6 767.8 525.3 768.1 526.0 768.4 520.4 768.6 507.4 768.9 358.8 769.2 644.1 769.5 504.0 769.7 526.7 770.0 539.5 770.3 520.7 770.5 478.6 770.8 448.6 771.1 499.6 771.3 537.2 771.6 404.3 771.9 482.9 772.2 450.6 772.4 414.9 772.7 443.8 773.0 509.1 773.2 514.9 773.5 545.7 773.8 539.6 774.0 512.4 774.3 481.4 774.6 462.2 774.9 478.3 775.1 498.0 775.4 513.6 775.7 527.2 775.9 523.0 776.2 509.9 776.5 484.2 776.7 470.3 777.0 473.6 777.3 517.4 777.6 537.1 777.8 541.9 778.1 493.6 778.4 462.3 778.6 556.3 778.9 488.2 779.2 497.4 779.4 511.5 779.7 531.1 780.0 537.5 780.2 527.6 780.5 500.1 780.8 495.2 781.1 472.9 781.3 474.2 781.6 490.8 781.9 509.8 782.1 523.7 782.4 532.1 782.7 536.4 783.0 525.7 783.2 498.9 783.5 486.5 783.8 489.0 784.0 497.0 784.3 509.5 784.6 465.4 784.8 529.4 785.1 517.0 785.4 502.1 785.7 491.6 785.9 486.3 786.2 507.4 786.5 531.3 786.7 529.0 787.0 504.8 787.3 484.9 787.5 498.8 787.8 517.0 788.1 527.9 788.4 516.4 788.6 485.8 788.9 472.4 789.2 472.4 789.4 567.3 789.7 524.3 790.0 546.3 790.2 434.0 790.5 484.3 790.8 477.4 791.1 455.3 791.3 494.4 791.6 509.0 791.9 526.6 792.1 528.5 792.4 524.7 792.7 515.6 792.9 464.2 793.2 459.3 793.5 474.2 793.8 511.7 794.0 556.5 794.3 557.4 794.6 532.4 794.8 471.6 795.1 466.9 795.4 477.7 795.6 506.7 795.9 518.2 796.2 528.6 796.5 496.3 796.7 466.1 797.0 457.0 797.3 459.1 797.5 533.0 797.8 552.5 798.1 510.3 798.3 481.0 798.6 456.3 798.9 455.7 799.2 463.6 799.4 525.8 799.7 560.7 800.0 524.2 800.2 581.4 800.5 474.1 800.8 478.8 801.0 532.3 801.3 547.0 801.6 539.3 801.9 426.2 802.1 439.1 802.4 452.1 802.7 493.3 802.9 537.4 803.2 542.3 803.5 531.7 803.7 506.3 804.0 473.9 804.3 453.9 804.6 483.5 804.8 532.7 805.1 542.0 805.4 534.9 805.6 501.2 805.9 467.4 806.2 481.0 806.4 520.9 806.7 532.2 807.0 532.0 807.2 510.2 807.5 497.0 807.8 494.2 808.1 484.3 808.3 477.9 808.6 509.4 808.9 518.1 809.1 524.4 809.4 527.1 809.7 522.2 810.0 505.7 810.2 503.5 810.5 491.7 810.8 491.6 811.0 495.7 811.3 528.1 811.6 523.6 811.8 525.1 812.1 506.1 812.4 491.6 812.7 480.0 812.9 494.3 813.2 524.6 813.5 532.0 813.7 515.0 814.0 498.7 814.3 479.5 814.5 484.6 814.8 505.3 815.1 520.8 815.4 516.4 815.6 501.9 815.9 485.1 816.2 501.8 816.4 518.4 816.7 536.8 817.0 534.4 817.2 497.9 817.5 449.7 817.8 466.9 818.1 496.9 818.3 535.1 818.6 551.2 818.9 544.6 819.1 498.0 819.4 484.3 819.7 439.4 819.9 429.0 820.2 468.2 820.5 540.4 820.8 567.1 821.0 574.1 821.3 524.7 821.6 402.7 821.8 448.8 822.1 429.4 822.4 609.6 822.6 494.6 822.9 534.6 823.2 548.3 823.5 501.9 823.7 385.5 824.0 443.7 824.3 474.6 824.5 575.0 824.8 585.8 825.1 503.3 825.3 470.7 825.6 475.0 825.9 527.3 826.2 564.8 826.4 547.8 826.7 467.0 827.0 421.0 827.2 451.3 827.5 533.3 827.8 555.7 828.0 522.3 828.3 486.3 828.6 437.2 828.9 471.8 829.1 521.4 829.4 561.9 829.7 533.2 829.9 509.3 830.2 472.0 830.5 446.9 830.7 502.7 831.0 536.4 831.3 540.0 831.6 539.1 831.8 424.6 832.1 565.7 832.4 508.4 832.6 527.9 832.9 538.7 833.2 520.5 833.4 497.7 833.7 467.0 834.0 465.0 834.2 468.0 834.5 507.7 834.8 538.2 835.1 540.9 835.3 534.0 835.6 482.9 835.9 461.6 836.1 489.3 836.4 558.9 836.7 566.4 837.0 515.4 837.2 486.6 837.5 472.0 837.8 482.3 838.0 449.7 838.3 545.4 838.6 535.1 838.8 504.1 839.1 459.2 839.4 445.6 839.7 465.7 839.9 508.1 840.2 538.1 840.5 546.6 840.7 532.0 841.0 506.9 841.3 475.2 841.5 495.0 841.8 572.9 842.1 590.7 842.4 497.3 842.6 606.5 842.9 477.8 843.2 508.4 843.4 562.6 843.7 549.6 844.0 499.4 844.2 423.1 844.5 475.9 844.8 534.5 845.0 564.6 845.3 550.9 845.6 503.3 845.9 478.5 846.1 479.7 846.4 525.2 846.7 542.8 846.9 551.0 847.2 544.3 847.5 513.0 847.8 465.7 848.0 447.9 848.3 459.6 848.6 497.2 848.8 434.0 849.1 553.8 849.4 513.0 849.6 505.4 849.9 477.7 850.2 470.1 850.5 559.4 850.7 511.2 851.0 530.7 851.3 534.9 851.5 524.3 851.8 487.0 852.1 463.9 852.3 474.9 852.6 506.9 852.9 512.5 853.2 522.7 853.4 516.8 853.7 504.0 854.0 485.5 854.2 497.9 854.5 509.0 854.8 521.3 855.0 525.9 855.3 484.4 855.6 456.2 855.9 446.5 856.1 456.9 856.4 494.0 856.7 418.4 856.9 560.0 857.2 570.1 857.5 567.2 857.7 504.2 858.0 463.2 858.3 437.7 858.5 480.7 858.8 547.2 859.1 568.5 859.4 548.5 859.6 514.1 859.9 600.2 860.2 460.6 860.4 498.5 860.7 566.7 861.0 586.7 861.2 519.3 861.5 405.8 861.8 481.7 862.1 532.4 862.3 577.7 862.6 583.4 862.9 539.6 863.1 476.6 863.4 455.2 863.7 517.9 864.0 537.4 864.2 603.1 864.5 624.2 864.8 597.8 865.0 526.0 865.3 465.9 865.6 426.2 865.8 451.8 866.1 377.6 866.4 584.7 866.7 597.7 866.9 565.9 867.2 524.7 867.5 486.6 867.7 648.8 868.0 447.6 868.3 480.0 868.5 544.1 868.8 565.0 869.1 544.8 869.4 523.8 869.6 434.6 869.9 369.8 870.2 527.8 870.4 547.4 870.7 615.8 871.0 560.5 871.2 455.2 871.5 427.5 871.8 496.7 872.0 546.6 872.3 578.5 872.6 560.2 872.9 496.8 873.1 480.0 873.4 459.4 873.7 506.9 873.9 443.4 874.2 534.8 874.5 538.2 874.8 527.3 875.0 521.0 875.3 488.0 875.6 481.3 875.8 496.5 876.1 526.1 876.4 529.4 876.6 533.1 876.9 495.2 877.2 479.7 877.5 471.0 877.7 492.6 878.0 510.6 878.3 533.3 878.5 532.9 878.8 488.6 879.1 456.6 879.3 486.3 879.6 536.5 879.9 557.6 880.2 518.5 880.4 443.4 880.7 471.9 881.0 481.3 881.2 502.5 881.5 546.2 881.8 578.2 882.0 505.5 882.3 480.6 882.6 465.8 882.9 478.1 883.1 503.5 883.4 434.0 883.7 533.2 883.9 534.3 884.2 526.6 884.5 498.2 884.7 480.1 885.0 473.7 885.3 475.4 885.5 516.9 885.8 529.2 886.1 534.5 886.4 502.7 886.6 482.1 886.9 476.2 887.2 480.8 887.4 555.1 887.7 563.4 888.0 456.0 888.2 559.4 888.5 472.7 888.8 506.1 889.1 540.3 889.3 559.3 889.6 549.7 889.9 473.2 890.1 456.6 890.4 455.3 890.7 470.4 891.0 509.1 891.2 537.3 891.5 527.4 891.8 500.9 892.0 471.6 892.3 496.2 892.6 520.5 892.8 452.9 893.1 522.5 893.4 488.2 893.7 463.9 893.9 473.2 894.2 493.0 894.5 552.5 894.7 559.4 895.0 517.4 895.3 485.5 895.5 478.3 895.8 486.1 896.1 508.2 896.4 552.7 896.6 547.1 896.9 590.5 897.2 462.4 897.4 466.4 897.7 503.5 898.0 513.2 898.2 533.0 898.5 408.6 898.8 508.9 899.0 453.9 899.3 470.4 899.6 491.6 899.9 514.7 900.1 522.5 900.4 528.2 900.7 477.6 900.9 459.3 901.2 470.5 901.5 504.4 901.8 531.5 902.0 532.5 902.3 496.5 902.6 480.2 902.8 477.2 903.1 500.4 903.4 522.8 903.6 530.3 903.9 506.9 904.2 492.8 904.5 482.0 904.7 481.9 905.0 494.0 905.3 549.7 905.5 463.5 905.8 533.6 906.1 488.4 906.3 464.8 906.6 487.6 906.9 540.5 907.2 546.2 907.4 505.2 907.7 462.6 908.0 494.8 908.2 500.3 908.5 529.7 908.8 583.7 909.0 524.1 909.3 501.6 909.6 490.6 909.9 415.5 910.1 460.7 910.4 488.3 910.7 512.2 910.9 561.9 911.2 525.8 911.5 501.3 911.7 480.4 912.0 470.6 912.3 472.8 912.5 480.5 912.8 523.9 913.1 548.2 913.4 550.1 913.6 534.7 913.9 439.5 914.2 563.0 914.4 459.4 914.7 523.0 915.0 548.2 915.2 551.4 915.5 549.0 915.8 542.5 916.1 498.8 916.3 476.6 916.6 467.1 916.9 481.0 917.1 515.6 917.4 547.4 917.7 537.8 918.0 510.1 918.2 492.1 918.5 477.7 918.8 484.6 919.0 496.0 919.3 467.0 919.6 518.4 919.8 534.0 920.1 503.8 920.4 493.1 920.7 487.3 920.9 499.9 921.2 516.1 921.5 535.5 921.7 537.0 922.0 520.8 922.3 489.5 922.5 487.9 922.8 491.6 923.1 510.9 923.4 530.6 923.6 538.4 923.9 511.4 924.2 493.6 924.4 484.1 924.7 539.0 925.0 507.1 925.2 527.4 925.5 507.7 925.8 490.9 926.0 496.6 926.3 502.0 926.6 523.5 926.9 534.7 927.1 535.1 927.4 507.3 927.7 499.2 927.9 493.7 928.2 493.9 928.5 499.0 928.8 514.7 929.0 527.2 929.3 531.3 929.6 506.6 929.8 500.0 930.1 494.7 930.4 492.9 930.6 504.4 930.9 532.9 931.2 522.6 931.5 507.4 931.7 501.0 932.0 497.9 932.3 497.1 932.5 530.2 932.8 484.1 933.1 506.9 933.3 493.3 933.6 494.9 933.9 520.0 934.2 528.5 934.4 523.0 934.7 505.7 935.0 491.7 935.2 481.7 935.5 489.9 935.8 504.2 936.0 511.2 936.3 522.4 936.6 525.9 936.9 495.0 937.1 485.4 937.4 502.6 937.7 534.6 937.9 555.0 938.2 535.2 938.5 513.3 938.7 486.2 939.0 455.7 939.3 461.4 939.5 488.3 939.8 443.0 940.1 566.5 940.4 531.0 940.6 487.2 940.9 455.2 941.2 457.4 941.4 497.5 941.7 524.7 942.0 544.6 942.2 535.0 942.5 481.4 942.8 433.9 943.1 439.6 943.3 486.2 943.6 524.5 943.9 552.9 944.1 548.4 944.4 523.0 944.7 463.6 945.0 449.3 945.2 462.0 945.5 422.4 945.8 533.4 946.0 524.3 946.3 479.8 946.6 573.4 946.8 469.3 947.1 512.0 947.4 539.4 947.7 556.2 947.9 549.3 948.2 510.5 948.5 458.1 948.7 446.9 949.0 483.5 949.3 488.8 949.5 523.0 949.8 530.3 950.1 543.6 950.4 515.0 950.6 475.0 950.9 463.6 951.2 434.4 951.4 513.4 951.7 585.4 952.0 560.5 952.2 552.9 952.5 497.8 952.8 475.1 953.0 483.6 953.3 508.2 953.6 524.4 953.9 527.0 954.1 521.3 954.4 468.0 954.7 461.9 954.9 482.5 955.2 509.2 955.5 552.2 955.8 538.6 956.0 507.5 956.3 485.5 956.6 493.3 956.8 526.8 957.1 542.6 957.4 508.4 957.6 484.6 957.9 482.6 958.2 497.5 958.5 514.4 958.7 439.5 959.0 552.3 959.3 520.3 959.5 496.7 959.8 484.1 960.1 477.2 960.3 477.7 960.6 484.6 960.9 527.4 961.2 551.8 961.4 480.6 961.7 453.1 962.0 470.0 962.2 576.8 962.5 507.5 962.8 535.1 963.0 551.1 963.3 525.9 963.6 467.8 963.9 450.6 964.1 489.8 964.4 543.7 964.7 548.3 964.9 530.5 965.2 485.9 965.5 422.4 965.7 454.4 966.0 527.2 966.3 557.4 966.5 552.0 966.8 511.6 967.1 483.3 967.4 469.8 967.6 483.1 967.9 528.7 968.2 560.0 968.4 549.2 968.7 498.1 969.0 466.4 969.2 459.8 969.5 486.2 969.8 531.5 970.1 549.0 970.3 535.2 970.6 505.4 970.9 491.4 971.1 468.7 971.4 475.1 971.7 519.3 972.0 582.2 972.2 587.9 972.5 436.1 972.8 523.5 973.0 495.5 973.3 477.5 973.6 466.2 973.8 483.7 974.1 545.5 974.4 572.3 974.7 553.8 974.9 516.3 975.2 466.9 975.5 450.1 975.7 480.9 976.0 534.9 976.3 567.9 976.5 583.3 976.8 525.2 977.1 478.7 977.4 454.8 977.6 604.2 977.9 556.1 978.2 571.4 978.4 417.2 978.7 466.9 979.0 458.1 979.2 432.1 979.5 451.3 979.8 539.0 980.0 567.5 980.3 563.6 980.6 529.2 980.9 474.1 981.1 451.9 981.4 461.1 981.7 489.4 981.9 517.6 982.2 543.9 982.5 511.5 982.8 425.8 983.0 472.4 983.3 514.2 983.6 541.1 983.8 516.4 984.1 471.1 984.4 469.9 984.6 502.3 984.9 523.0 985.2 529.6 985.5 520.7 985.7 501.8 986.0 498.2 986.3 484.8 986.5 480.8 986.8 481.9 987.1 502.6 987.3 516.0 987.6 553.4 987.9 542.1 988.2 490.0 988.4 453.9 988.7 515.0 989.0 531.4 989.2 543.3 989.5 594.0 989.8 468.2 990.0 464.3 990.3 488.6 990.6 527.6 990.9 559.9 991.1 436.1 991.4 551.8 991.7 527.3 991.9 495.5 992.2 452.5 992.5 459.7 992.7 512.0 993.0 528.3 993.3 564.1 993.5 579.1 993.8 553.7 994.1 499.8 994.4 432.9 994.6 443.7 994.9 502.8 995.2 593.8 995.4 611.8 995.7 525.5 996.0 472.5 996.2 465.0 996.5 483.8 996.8 570.4 997.1 608.0 997.3 518.9 997.6 433.2 997.9 435.5 998.1 523.7 998.4 590.4 998.7 565.5 999.0 484.3 999.2 635.1 999.5 396.7 999.8 377.7 1000.0 509.2 1000.3 584.1 1000.6 607.6 1000.8 514.3 1001.1 424.4 1001.4 413.3 1001.7 446.3 1001.9 509.6 1002.2 554.5 1002.5 545.9 1002.7 540.9 1003.0 500.3 1003.3 446.7 1003.5 430.3 1003.8 434.6 1004.1 485.5 1004.4 573.5 1004.6 576.0 1004.9 531.8 1005.2 496.5 1005.4 468.6 1005.7 502.6 1006.0 530.9 1006.2 544.0 1006.5 509.8 1006.8 439.5 1007.0 474.6 1007.3 477.4 1007.6 488.0 1007.9 567.1 1008.1 567.0 1008.4 614.5 1008.7 475.1 1008.9 457.7 1009.2 444.3 1009.5 448.0 1009.8 489.9 1010.0 536.1 1010.3 561.9 1010.6 557.1 1010.8 467.7 1011.1 423.4 1011.4 434.7 1011.6 504.7 1011.9 394.9 1012.2 578.3 1012.5 531.3 1012.7 463.6 1013.0 441.8 1013.3 437.8 1013.5 480.3 1013.8 543.6 1014.1 355.4 1014.3 638.6 1014.6 495.8 1014.9 442.1 1015.2 446.4 1015.4 515.4 1015.7 547.9 1016.0 555.7 1016.2 540.6 1016.5 495.2 1016.8 456.4 1017.0 445.6 1017.3 511.6 1017.6 580.6 1017.9 561.5 1018.1 455.5 1018.4 418.4 1018.7 483.5 1018.9 532.1 1019.2 551.2 1019.5 494.3 1019.7 445.6 1020.0 441.4 1020.3 422.4 1020.5 545.7 1020.8 571.3 1021.1 570.5 1021.4 530.3 1021.6 454.4 1021.9 444.8 1022.2 580.2 1022.4 567.8 1022.7 538.4 1023.0 477.0 1023.2 456.3 1023.5 458.3 1023.8 513.0 1024.1 553.2 1024.3 556.6 1024.6 527.9 1024.9 494.0 1025.1 473.0 1025.4 468.1 1025.7 496.1 1026.0 505.0 1026.2 516.4 1026.5 526.9 1026.8 521.3 1027.0 502.9 1027.3 479.3 1027.6 486.2 1027.8 496.2 1028.1 524.4 1028.4 544.5 1028.7 528.4 1028.9 500.4 1029.2 479.8 1029.5 462.9 1029.7 508.2 1030.0 405.2 1030.3 547.4 1030.5 523.3 1030.8 482.3 1031.1 462.2 1031.4 470.6 1031.6 508.2 1031.9 546.9 1032.2 559.1 1032.4 611.1 1032.7 502.6 1033.0 477.9 1033.2 470.9 1033.5 478.4 1033.8 508.4 1034.0 436.1 1034.3 535.7 1034.6 492.1 1034.9 462.8 1035.1 445.7 1035.4 443.7 1035.7 504.7 1035.9 579.0 1036.2 522.5 1036.5 500.7 1036.8 469.6 1037.0 470.5 1037.3 477.8 1037.6 556.8 1037.8 561.0 1038.1 506.1 1038.4 451.2 1038.6 461.8 1038.9 547.5 1039.2 589.7 1039.5 567.6 1039.7 530.5 1040.0 442.0 1040.3 457.3 1040.5 377.0 1040.8 582.4 1041.1 374.3 1041.3 518.9 1041.6 674.0 1041.9 451.9 1042.2 524.0 1042.4 560.4 1042.7 310.0 1043.0 446.7 1043.2 391.4 1043.5 412.0 1043.8 516.9 1044.0 584.6 1044.3 557.0 1044.6 339.4 1044.9 409.7 1045.1 635.4 1045.4 354.0 1045.7 563.6 1045.9 568.7 1046.2 554.9 1046.5 508.0 1046.7 424.8 1047.0 418.0 1047.3 500.6 1047.5 568.1 1047.8 384.6 1048.1 416.0 1048.4 405.2 1048.6 434.2 1048.9 483.5 1049.2 542.0 1049.4 574.1 1049.7 589.2 1050.0 559.8 1050.2 522.8 1050.5 479.1 1050.8 438.0 1051.1 398.8 1051.3 461.4 1051.6 574.2 1051.9 594.1 1052.1 522.0 1052.4 475.2 1052.7 465.9 1053.0 621.4 1053.2 550.6 1053.5 554.6 1053.8 541.7 1054.0 494.8 1054.3 484.2 1054.6 412.1 1054.8 471.5 1055.1 511.9 1055.4 554.6 1055.7 566.5 1055.9 544.1 1056.2 479.2 1056.5 444.3 1056.7 438.5 1057.0 489.3 1057.3 517.9 1057.5 557.6 1057.8 539.2 1058.1 461.2 1058.4 449.6 1058.6 479.3 1058.9 501.2 1059.2 520.8 1059.4 550.2 1059.7 537.7 1060.0 374.3 1060.2 429.3 1060.5 416.3 1060.8 476.5 1061.0 530.9 1061.3 559.5 1061.6 624.8 1061.9 496.6 1062.1 448.0 1062.4 451.4 1062.7 448.4 1062.9 477.5 1063.2 520.4 1063.5 601.0 1063.8 597.7 1064.0 545.9 1064.3 502.2 1064.6 442.8 1064.8 459.5 1065.1 401.8 1065.4 556.3 1065.6 546.6 1065.9 501.8 1066.2 441.3 1066.5 420.6 1066.7 410.1 1067.0 435.6 1067.3 506.0 1067.5 584.8 1067.8 585.7 1068.1 511.9 1068.3 388.0 1068.6 628.3 1068.9 433.6 1069.2 453.5 1069.4 487.7 1069.7 537.1 1070.0 576.5 1070.2 579.8 1070.5 566.0 1070.8 512.7 1071.0 461.3 1071.3 446.7 1071.6 465.6 1071.9 391.5 1072.1 559.3 1072.4 577.5 1072.7 500.8 1072.9 473.7 1073.2 467.5 1073.5 600.8 1073.7 553.5 1074.0 539.3 1074.3 472.0 1074.5 462.2 1074.8 480.7 1075.1 519.1 1075.4 553.6 1075.6 542.4 1075.9 508.1 1076.2 476.9 1076.4 479.7 1076.7 491.2 1077.0 456.7 1077.2 536.0 1077.5 515.6 1077.8 496.3 1078.1 476.3 1078.3 499.8 1078.6 525.5 1078.9 527.3 1079.1 522.0 1079.4 504.5 1079.7 498.4 1080.0 489.6 1080.2 494.0 1080.5 507.2 1080.8 519.3 1081.0 526.7 1081.3 507.8 1081.6 495.7 1081.8 495.0 1082.1 484.1 1082.4 563.0 1082.7 537.1 1082.9 533.1 1083.2 503.1 1083.5 483.2 1083.7 485.9 1084.0 487.4 1084.3 490.9 1084.5 509.4 1084.8 545.6 1085.1 552.0 1085.4 517.5 1085.6 496.7 1085.9 478.8 1086.2 479.0 1086.4 498.6 1086.7 515.4 1087.0 531.6 1087.2 499.2 1087.5 448.2 1087.8 463.1 1088.0 467.9 1088.3 477.2 1088.6 502.9 1088.9 531.5 1089.1 580.6 1089.4 543.3 1089.7 509.0 1089.9 491.6 1090.2 477.6 1090.5 471.6 1090.8 492.3 1091.0 532.2 1091.3 541.8 1091.6 521.0 1091.8 498.3 1092.1 488.6 1092.4 487.8 1092.6 489.7 1092.9 509.4 1093.2 477.6 1093.5 528.9 1093.7 497.5 1094.0 486.5 1094.3 486.5 1094.5 497.0 1094.8 528.8 1095.1 539.0 1095.3 522.5 1095.6 502.8 1095.9 487.3 1096.2 491.7 1096.4 501.1 1096.7 541.8 1097.0 534.8 1097.2 506.5 1097.5 485.4 1097.8 495.0 1098.0 520.5 1098.3 539.7 1098.6 536.2 1098.9 519.0 1099.1 463.0 1099.4 548.2 1099.7 482.1 1099.9 489.4 1100.2 502.7 1100.5 521.5 1100.7 540.4 1101.0 534.5 1101.3 503.4 1101.5 490.4 1101.8 497.9 1102.1 525.9 1102.4 532.8 1102.6 525.9 1102.9 490.2 1103.2 472.3 1103.4 474.4 1103.7 502.3 1104.0 525.4 1104.2 533.0 1104.5 518.0 1104.8 506.7 1105.1 474.7 1105.3 490.0 1105.6 492.7 1105.9 522.0 1106.1 526.3 1106.4 539.2 1106.7 529.7 1107.0 522.3 1107.2 471.7 1107.5 470.7 1107.8 501.5 1108.0 534.3 1108.3 525.2 1108.6 501.6 1108.8 470.9 1109.1 467.8 1109.4 500.7 1109.7 515.1 1109.9 532.2 1110.2 527.4 1110.5 517.5 1110.7 488.9 1111.0 467.6 1111.3 468.6 1111.5 507.5 1111.8 528.3 1112.1 531.3 1112.4 525.5 1112.6 514.4 1112.9 491.0 1113.2 470.2 1113.4 473.1 1113.7 451.2 1114.0 529.6 1114.2 536.7 1114.5 511.7 1114.8 554.0 1115.0 485.9 1115.3 492.3 1115.6 497.3 1115.9 528.4 1116.1 532.8 1116.4 485.8 1116.7 468.6 1116.9 498.1 1117.2 522.1 1117.5 535.1 1117.8 515.4 1118.0 496.4 1118.3 493.0 1118.6 496.4 1118.8 508.6 1119.1 523.2 1119.4 518.0 1119.6 504.0 1119.9 487.6 1120.2 492.1 1120.5 505.2 1120.7 514.6 1121.0 516.2 1121.3 517.5 1121.5 516.1 1121.8 505.8 1122.1 494.4 1122.3 487.6 1122.6 460.0 1122.9 548.2 1123.2 523.8 1123.4 530.8 1123.7 528.5 1124.0 509.5 1124.2 481.9 1124.5 476.7 1124.8 512.8 1125.0 526.4 1125.3 514.5 1125.6 503.1 1125.9 494.8 1126.1 497.5 1126.4 520.7 1126.7 530.2 1126.9 530.1 1127.2 504.0 1127.5 486.3 1127.7 493.5 1128.0 503.0 1128.3 511.0 1128.5 522.9 1128.8 517.4 1129.1 506.2 1129.4 482.4 1129.6 479.5 1129.9 482.1 1130.2 484.4 1130.4 497.0 1130.7 514.2 1131.0 524.6 1131.2 523.0 1131.5 483.5 1131.8 480.6 1132.1 477.9 1132.3 478.4 1132.6 497.0 1132.9 533.5 1133.1 519.3 1133.4 527.8 1133.7 522.7 1134.0 522.4 1134.2 495.7 1134.5 468.1 1134.8 479.2 1135.0 494.0 1135.3 524.2 1135.6 539.0 1135.8 517.1 1136.1 503.8 1136.4 478.3 1136.7 479.4 1136.9 479.8 1137.2 508.0 1137.5 541.0 1137.7 547.3 1138.0 506.8 1138.3 478.7 1138.5 475.5 1138.8 503.0 1139.1 543.3 1139.4 548.0 1139.6 546.9 1139.9 512.3 1140.2 490.8 1140.4 458.8 1140.7 456.6 1141.0 484.2 1141.2 521.4 1141.5 558.0 1141.8 436.5 1142.0 574.7 1142.3 453.0 1142.6 482.8 1142.9 516.5 1143.1 546.2 1143.4 517.2 1143.7 493.9 1143.9 461.6 1144.2 463.6 1144.5 506.6 1144.8 530.0 1145.0 532.1 1145.3 526.2 1145.6 474.4 1145.8 451.4 1146.1 448.2 1146.4 497.8 1146.6 518.6 1146.9 527.8 1147.2 524.0 1147.5 502.3 1147.7 486.1 1148.0 466.7 1148.3 480.4 1148.5 524.1 1148.8 550.8 1149.1 577.6 1149.3 504.0 1149.6 432.0 1149.9 466.4 1150.2 515.8 1150.4 524.3 1150.7 561.7 1151.0 551.3 1151.2 523.7 1151.5 503.2 1151.8 458.0 1152.0 492.7 1152.3 526.5 1152.6 527.4 1152.9 513.3 1153.1 475.3 1153.4 471.8 1153.7 513.7 1153.9 538.4 1154.2 533.4 1154.5 506.3 1154.7 470.7 1155.0 448.2 1155.3 576.2 1155.5 520.8 1155.8 529.2 1156.1 522.6 1156.4 508.1 1156.6 491.5 1156.9 478.1 1157.2 487.2 1157.4 523.6 1157.7 540.5 1158.0 511.3 1158.2 487.5 1158.5 496.7 1158.8 528.3 1159.1 531.6 1159.3 517.0 1159.6 514.2 1159.9 496.7 1160.1 485.5 1160.4 505.2 1160.7 512.9 1161.0 525.4 1161.2 518.5 1161.5 490.6 1161.8 487.6 1162.0 481.4 1162.3 460.0 1162.6 548.2 1162.8 541.8 1163.1 539.7 1163.4 505.3 1163.7 486.4 1163.9 490.8 1164.2 515.9 1164.5 528.5 1164.7 517.6 1165.0 509.4 1165.3 501.2 1165.5 487.3 1165.8 495.8 1166.1 531.3 1166.4 549.6 1166.6 541.5 1166.9 505.5 1167.2 470.7 1167.4 455.4 1167.7 506.2 1168.0 539.9 1168.2 448.2 1168.5 543.9 1168.8 531.7 1169.0 467.5 1169.3 449.0 1169.6 492.2 1169.9 524.8 1170.1 543.8 1170.4 545.1 1170.7 506.7 1170.9 435.7 1171.2 489.9 1171.5 520.9 1171.8 552.0 1172.0 542.9 1172.3 506.0 1172.6 608.5 1172.8 445.1 1173.1 393.8 1173.4 491.6 1173.6 551.1 1173.9 574.4 1174.2 505.5 1174.5 429.5 1174.7 422.7 1175.0 482.4 1175.3 544.4 1175.5 410.0 1175.8 525.3 1176.1 464.6 1176.3 445.2 1176.6 449.9 1176.9 482.6 1177.2 595.3 1177.4 546.1 1177.7 512.8 1178.0 477.2 1178.2 469.2 1178.5 518.5 1178.8 563.1 1179.0 554.9 1179.3 522.0 1179.6 456.5 1179.9 438.0 1180.1 459.2 1180.4 537.3 1180.7 566.7 1180.9 534.0 1181.2 478.8 1181.5 448.0 1181.7 455.0 1182.0 483.7 1182.3 563.2 1182.5 598.5 1182.8 460.0 1183.1 470.7 1183.4 469.7 1183.6 492.0 1183.9 525.1 1184.2 592.6 1184.4 605.7 1184.7 523.5 1185.0 477.7 1185.2 463.0 1185.5 516.9 1185.8 585.9 1186.1 568.6 1186.3 498.6 1186.6 438.7 1186.9 461.1 1187.1 504.9 1187.4 580.4 1187.7 534.8 1188.0 456.1 1188.2 415.4 1188.5 423.8 1188.8 446.3 1189.0 543.3 1189.3 393.8 1189.6 620.3 1189.8 474.2 1190.1 472.9 1190.4 519.8 1190.7 589.5 1190.9 539.1 1191.2 485.8 1191.5 457.9 1191.7 474.3 1192.0 549.9 1192.3 570.4 1192.5 525.9 1192.8 464.2 1193.1 457.0 1193.4 514.8 1193.6 551.8 1193.9 526.4 1194.2 488.6 1194.4 476.7 1194.7 481.7 1195.0 495.1 1195.2 521.2 1195.5 558.4 1195.8 551.0 1196.1 543.4 1196.3 502.6 1196.6 473.3 1196.9 479.1 1197.1 497.6 1197.4 534.3 1197.7 538.6 1197.9 533.2 1198.2 528.1 1198.5 495.4 1198.8 475.2 1199.0 502.7 1199.3 521.0 1199.6 525.4 1199.8 524.6 1200.1 524.0 1200.4 502.6 1200.6 471.8 1200.9 530.6 1201.2 499.2 1201.5 509.4 1201.7 517.5 1202.0 517.1 1202.3 514.9 1202.5 510.5 1202.8 492.3 1203.1 495.2 1203.3 505.7 1203.6 519.2 1203.9 517.9 1204.2 503.9 1204.4 496.6 1204.7 497.7 1205.0 508.5 1205.2 514.2 1205.5 517.3 1205.8 517.7 1206.0 513.6 1206.3 499.3 1206.6 490.0 1206.9 491.7 1207.1 511.7 1207.4 519.6 1207.7 521.3 1207.9 507.5 1208.2 500.1 1208.5 501.8 1208.7 499.5 1209.0 510.0 1209.3 483.5 1209.6 536.5 1209.8 499.3 1210.1 493.9 1210.4 491.9 1210.6 498.3 1210.9 526.7 1211.2 531.2 1211.4 508.0 1211.7 498.6 1212.0 494.0 1212.2 491.2 1212.5 493.9 1212.8 497.8 1213.1 527.0 1213.3 526.5 1213.6 504.0 1213.9 492.9 1214.1 483.6 1214.4 487.3 1214.7 522.9 1215.0 544.2 1215.2 525.6 1215.5 502.1 1215.8 495.4 1216.0 477.2 1216.3 469.8 1216.6 486.4 1216.8 460.0 1217.1 533.6 1217.4 541.5 1217.7 508.3 1217.9 481.0 1218.2 557.0 1218.5 456.3 1218.7 491.9 1219.0 511.9 1219.3 532.9 1219.5 528.0 1219.8 512.6 1220.1 458.6 1220.4 438.5 1220.6 472.4 1220.9 523.0 1221.2 560.5 1221.4 554.2 1221.7 512.8 1222.0 467.0 1222.2 446.9 1222.5 477.8 1222.8 520.6 1223.1 558.4 1223.3 541.8 1223.6 485.9 1223.9 423.3 1224.1 412.8 1224.4 433.5 1224.7 490.0 1224.9 533.7 1225.2 551.2 1225.5 552.5 1225.8 538.5 1226.0 445.0 1226.3 401.2 1226.6 604.1 1226.8 518.0 1227.1 546.8 1227.4 537.4 1227.6 501.9 1227.9 483.4 1228.2 458.1 1228.5 498.3 1228.7 558.5 1229.0 575.7 1229.3 526.7 1229.5 500.5 1229.8 475.9 1230.1 427.6 1230.3 522.2 1230.6 543.0 1230.9 531.3 1231.2 493.4 1231.4 465.6 1231.7 443.2 1232.0 487.1 1232.2 527.8 1232.5 543.4 1232.8 565.9 1233.0 469.6 1233.3 468.0 1233.6 476.7 1233.9 518.5 1234.1 551.7 1234.4 448.2 1234.7 514.3 1234.9 495.4 1235.2 476.3 1235.5 520.2 1235.7 544.0 1236.0 542.6 1236.3 511.3 1236.6 488.6 1236.8 490.6 1237.1 505.1 1237.4 540.0 1237.6 553.1 1237.9 542.4 1238.2 496.0 1238.4 473.8 1238.7 469.0 1239.0 499.9 1239.2 538.6 1239.5 539.8 1239.8 503.9 1240.1 483.7 1240.3 469.9 1240.6 485.5 1240.9 523.9 1241.1 547.9 1241.4 523.1 1241.7 518.1 1242.0 490.9 1242.2 483.8 1242.5 486.6 1242.8 483.1 1243.0 503.9 1243.3 457.0 1243.6 549.0 1243.8 542.4 1244.1 508.3 1244.4 492.1 1244.7 563.0 1244.9 482.8 1245.2 497.0 1245.5 524.4 1245.7 540.9 1246.0 530.1 1246.3 496.6 1246.5 476.2 1246.8 473.3 1247.1 517.0 1247.4 529.9 1247.6 522.0 1247.9 506.6 1248.2 492.2 1248.4 484.4 1248.7 478.0 1249.0 507.2 1249.2 555.1 1249.5 572.2 1249.8 503.3 1250.1 493.1 1250.3 441.5 1250.6 457.8 1250.9 491.6 1251.1 534.7 1251.4 576.8 1251.7 524.0 1251.9 481.0 1252.2 408.5 1252.5 618.8 1252.8 527.1 1253.0 580.7 1253.3 587.2 1253.6 532.3 1253.8 496.0 1254.1 463.6 1254.4 478.4 1254.6 511.7 1254.9 413.0 1255.2 573.7 1255.5 482.7 1255.7 475.5 1256.0 456.1 1256.3 481.0 1256.5 527.1 1256.8 548.9 1257.1 567.6 1257.3 558.4 1257.6 485.5 1257.9 595.3 1258.2 416.4 1258.4 404.1 1258.7 535.1 1259.0 571.7 1259.2 582.8 1259.5 543.7 1259.8 447.9 1260.0 431.5 1260.3 472.7 1260.6 555.3 1260.9 583.9 1261.1 515.9 1261.4 460.8 1261.7 470.5 1261.9 537.4 1262.2 555.6 1262.5 542.8 1262.7 489.6 1263.0 460.7 1263.3 473.7 1263.6 483.1 1263.8 457.0 1264.1 553.3 1264.4 563.7 1264.6 506.0 1264.9 493.4 1265.2 478.8 1265.4 489.2 1265.7 526.3 1266.0 562.7 1266.2 557.9 1266.5 531.9 1266.8 522.5 1267.1 495.0 1267.3 485.5 1267.6 467.4 1267.9 496.9 1268.1 571.8 1268.4 531.0 1268.7 524.5 1269.0 501.7 1269.2 484.4 1269.5 482.7 1269.8 505.7 1270.0 517.9 1270.3 529.9 1270.6 524.4 1270.8 509.4 1271.1 479.0 1271.4 493.7 1271.7 517.3 1271.9 539.2 1272.2 541.3 1272.5 539.2 1272.7 521.4 1273.0 515.1 1273.3 484.1 1273.5 477.4 1273.8 494.9 1274.1 460.0 1274.4 525.8 1274.6 533.1 1274.9 527.9 1275.2 511.1 1275.4 470.2 1275.7 482.7 1276.0 516.7 1276.2 534.1 1276.5 535.7 1276.8 520.1 1277.1 499.1 1277.3 492.0 1277.6 491.0 1277.9 513.1 1278.1 536.9 1278.4 535.0 1278.7 525.9 1278.9 519.3 1279.2 487.6 1279.5 480.9 1279.8 505.2 1280.0 527.2 1280.3 542.1 1280.6 546.6 1280.8 511.6 1281.1 501.7 1281.4 491.2 1281.6 495.6 1281.9 516.1 1282.2 534.0 1282.5 538.9 1282.7 547.1 1283.0 451.2 1283.3 570.3 1283.5 470.5 1283.8 466.0 1284.1 501.3 1284.3 525.2 1284.6 537.8 1284.9 533.4 1285.2 528.7 1285.4 469.2 1285.7 447.3 1286.0 441.6 1286.2 463.3 1286.5 544.2 1286.8 573.4 1287.0 516.0 1287.3 475.7 1287.6 457.3 1287.9 458.8 1288.1 467.2 1288.4 572.6 1288.7 592.4 1288.9 427.6 1289.2 457.8 1289.5 451.6 1289.7 473.7 1290.0 555.3 1290.3 602.5 1290.6 530.9 1290.8 475.5 1291.1 454.7 1291.4 465.6 1291.6 498.5 1291.9 545.5 1292.2 591.9 1292.4 617.4 1292.7 527.4 1293.0 465.4 1293.2 469.3 1293.5 474.1 1293.8 404.1 1294.1 566.8 1294.3 531.5 1294.6 489.4 1294.9 470.3 1295.1 477.5 1295.4 554.1 1295.7 555.6 1296.0 526.7 1296.2 497.2 1296.5 471.3 1296.8 451.2 1297.0 571.8" fill="none" stroke="#000" stroke-width="1.2" stroke-linejoin="miter" stroke-miterlimit="2"/>
<path d="M325.3 499.2 325.6 500.0 325.8 500.8 326.1 501.6 326.4 502.3 326.7 503.0 326.9 503.7 327.2 504.3 327.5 505.0 327.7 505.7 328.0 506.3 328.3 507.0 328.5 507.0 328.8 507.0 329.1 507.0 329.4 507.0 329.6 507.0 329.9 507.0 330.2 507.0 330.4 507.1 330.7 507.1 331.0 507.0 331.2 507.0 331.5 507.0 331.8 507.0 332.1 507.0 332.3 507.0 332.6 507.0 332.9 507.0 333.1 507.0 333.4 507.0 333.7 507.0 333.9 506.9 334.2 506.9 334.5 506.9 334.8 506.9 335.0 506.9 335.3 507.0 335.6 507.0 335.8 507.0 336.1 507.1 336.4 507.2 336.6 507.3 336.9 507.4 337.2 507.5 337.4 507.4 337.7 507.3 338.0 507.1 338.3 506.8 338.5 506.5 338.8 506.3 339.1 506.2 339.3 506.1 339.6 506.3 339.9 506.5 340.2 506.7 340.4 507.0 340.7 507.2 341.0 507.3 341.2 507.5 341.5 507.6 341.8 507.7 342.0 507.8 342.3 508.0 342.6 508.0 342.9 508.0 343.1 507.9 343.4 507.6 343.7 507.2 343.9 506.7 344.2 506.1 344.5 505.7 344.7 505.4 345.0 505.3 345.3 505.5 345.6 505.9 345.8 506.4 346.1 506.9 346.4 507.4 346.6 507.7 346.9 507.9 347.2 507.9 347.4 507.8 347.7 507.6 348.0 507.4 348.2 507.2 348.5 507.0 348.8 507.0 349.1 506.9 349.3 507.0 349.6 507.1 349.9 507.2 350.1 507.3 350.4 507.3 350.7 507.4 350.9 507.3 351.2 507.3 351.5 507.2 351.8 507.2 352.0 507.2 352.3 507.1 352.6 507.1 352.8 507.1 353.1 507.1 353.4 507.0 353.7 507.0 353.9 506.9 354.2 506.8 354.5 506.7 354.7 506.6 355.0 506.4 355.3 506.3 355.5 506.2 355.8 506.1 356.1 506.1 356.4 506.1 356.6 506.2 356.9 506.3 357.2 506.5 357.4 506.6 357.7 506.8 358.0 507.0 358.2 507.3 358.5 507.6 358.8 507.8 359.1 507.9 359.3 507.8 359.6 507.5 359.9 507.0 360.1 506.5 360.4 506.0 360.7 505.7 360.9 505.7 361.2 505.9 361.5 506.4 361.8 507.0 362.0 507.6 362.3 507.9 362.6 507.9 362.8 507.5 363.1 507.0 363.4 506.3 363.6 505.8 363.9 505.6 364.2 505.7 364.5 506.0 364.7 506.5 365.0 506.9 365.3 507.2 365.5 507.3 365.8 507.2 366.1 507.3 366.3 507.3 366.6 507.4 366.9 507.6 367.2 507.7 367.4 507.6 367.7 507.4 368.0 507.1 368.2 506.7 368.5 506.2 368.8 505.8 369.0 505.6 369.3 505.6 369.6 505.8 369.9 506.3 370.1 506.8 370.4 507.3 370.7 507.6 370.9 507.9 371.2 507.9 371.5 507.9 371.7 507.7 372.0 507.6 372.3 507.4 372.6 507.2 372.8 507.1 373.1 507.0 373.4 507.0 373.6 507.1 373.9 507.2 374.2 507.2 374.4 507.3 374.7 507.2 375.0 507.2 375.2 507.1 375.5 507.1 375.8 507.1 376.1 507.1 376.3 507.1 376.6 507.1 376.9 507.0 377.1 507.0 377.4 506.9 377.7 506.8 378.0 506.7 378.2 506.7 378.5 506.7 378.8 506.9 379.0 507.1 379.3 507.4 379.6 507.6 379.8 507.8 380.1 507.8 380.4 507.8 380.7 507.7 380.9 507.6 381.2 507.4 381.5 507.3 381.7 507.1 382.0 507.0 382.3 507.0 382.5 506.9 382.8 506.9 383.1 506.9 383.4 507.0 383.6 507.0 383.9 507.0 384.2 507.0 384.4 507.0 384.7 507.0 385.0 506.9 385.2 506.9 385.5 506.8 385.8 506.7 386.1 506.6 386.3 506.5 386.6 506.5 386.9 506.6 387.1 506.8 387.4 506.9 387.7 507.1 387.9 507.2 388.2 507.2 388.5 507.2 388.8 507.1 389.0 507.0 389.3 506.9 389.6 506.8 389.8 506.7 390.1 506.6 390.4 506.6 390.6 506.5 390.9 506.5 391.2 506.6 391.5 506.8 391.7 507.0 392.0 507.3 392.3 507.6 392.5 507.9 392.8 508.1 393.1 508.2 393.3 508.1 393.6 507.9 393.9 507.7 394.2 507.5 394.4 507.3 394.7 507.2 395.0 507.2 395.2 507.2 395.5 507.2 395.8 507.2 396.0 507.1 396.3 506.9 396.6 506.7 396.9 506.4 397.1 506.3 397.4 506.2 397.7 506.3 397.9 506.5 398.2 506.8 398.5 507.0 398.7 507.2 399.0 507.3 399.3 507.3 399.6 507.1 399.8 506.9 400.1 506.7 400.4 506.4 400.6 506.3 400.9 506.2 401.2 506.3 401.4 506.5 401.7 506.7 402.0 507.0 402.2 507.2 402.5 507.3 402.8 507.3 403.1 507.2 403.3 507.0 403.6 506.9 403.9 506.8 404.1 506.9 404.4 507.0 404.7 507.3 405.0 507.5 405.2 507.7 405.5 507.8 405.8 507.8 406.0 507.7 406.3 507.5 406.6 507.3 406.8 507.1 407.1 506.8 407.4 506.6 407.7 506.5 407.9 506.4 408.2 506.4 408.5 506.5 408.7 506.6 409.0 506.7 409.3 506.8 409.5 506.9 409.8 507.0 410.1 507.1 410.4 507.1 410.6 507.2 410.9 507.2 411.2 507.2 411.4 507.2 411.7 507.2 412.0 507.1 412.2 507.1 412.5 507.1 412.8 507.1 413.1 507.0 413.3 507.0 413.6 507.0 413.9 507.0 414.1 506.9 414.4 507.0 414.7 507.0 414.9 507.1 415.2 507.3 415.5 507.4 415.8 507.6 416.0 507.6 416.3 507.6 416.6 507.6 416.8 507.4 417.1 507.1 417.4 506.9 417.6 506.6 417.9 506.5 418.2 506.5 418.5 506.5 418.7 506.6 419.0 506.7 419.3 506.8 419.5 506.9 419.8 506.9 420.1 507.0 420.3 507.0 420.6 507.1 420.9 507.1 421.2 507.1 421.4 507.1 421.7 507.1 422.0 507.1 422.2 507.0 422.5 507.0 422.8 506.9 423.0 506.9 423.3 506.9 423.6 507.0 423.9 507.1 424.1 507.1 424.4 507.2 424.7 507.2 424.9 507.2 425.2 507.2 425.5 507.2 425.7 507.2 426.0 507.3 426.3 507.3 426.6 507.3 426.8 507.4 427.1 507.4 427.4 507.4 427.6 507.4 427.9 507.3 428.2 507.3 428.4 507.2 428.7 507.1 429.0 507.1 429.2 507.0 429.5 506.9 429.8 506.9 430.1 506.8 430.3 506.8 430.6 506.8 430.9 506.8 431.1 506.8 431.4 506.9 431.7 507.0 432.0 507.2 432.2 507.4 432.5 507.5 432.8 507.6 433.0 507.6 433.3 507.4 433.6 507.3 433.8 507.1 434.1 506.9 434.4 506.8 434.7 506.8 434.9 506.8 435.2 506.9 435.5 506.9 435.7 506.9 436.0 506.9 436.3 506.8 436.5 506.7 436.8 506.5 437.1 506.4 437.4 506.3 437.6 506.2 437.9 506.3 438.2 506.4 438.4 506.6 438.7 506.8 439.0 507.0 439.2 507.1 439.5 507.2 439.8 507.2 440.1 507.0 440.3 506.9 440.6 506.8 440.9 506.7 441.1 506.8 441.4 506.9 441.7 507.0 441.9 507.1 442.2 507.2 442.5 507.2 442.8 507.2 443.0 507.1 443.3 507.1 443.6 507.1 443.8 507.1 444.1 507.0 444.4 507.0 444.6 507.0 444.9 507.0 445.2 506.9 445.5 506.9 445.7 506.9 446.0 506.9 446.3 506.9 446.5 506.9 446.8 507.0 447.1 507.1 447.3 507.2 447.6 507.2 447.9 507.2 448.2 507.2 448.4 507.2 448.7 507.2 449.0 507.1 449.2 507.0 449.5 507.0 449.8 506.9 450.0 506.9 450.3 506.9 450.6 506.9 450.9 506.9 451.1 506.9 451.4 506.8 451.7 506.8 451.9 506.7 452.2 506.7 452.5 506.7 452.7 506.8 453.0 506.9 453.3 507.0 453.6 507.1 453.8 507.2 454.1 507.3 454.4 507.3 454.6 507.3 454.9 507.2 455.2 507.2 455.4 507.1 455.7 507.0 456.0 506.9 456.2 506.8 456.5 506.7 456.8 506.5 457.1 506.3 457.3 506.1 457.6 505.9 457.9 505.8 458.1 505.9 458.4 506.0 458.7 506.2 459.0 506.5 459.2 506.8 459.5 507.0 459.8 507.1 460.0 507.2 460.3 507.2 460.6 507.3 460.8 507.3 461.1 507.3 461.4 507.3 461.7 507.3 461.9 507.4 462.2 507.4 462.5 507.4 462.7 507.3 463.0 507.2 463.3 507.1 463.5 506.9 463.8 506.8 464.1 506.6 464.4 506.5 464.6 506.5 464.9 506.5 465.2 506.6 465.4 506.7 465.7 506.7 466.0 506.8 466.2 506.8 466.5 506.9 466.8 506.9 467.1 507.0 467.3 507.0 467.6 507.1 467.9 507.2 468.1 507.4 468.4 507.5 468.7 507.6 468.9 507.7 469.2 507.8 469.5 507.7 469.8 507.5 470.0 507.2 470.3 506.9 470.6 506.6 470.8 506.5 471.1 506.5 471.4 506.7 471.6 506.9 471.9 507.2 472.2 507.4 472.5 507.4 472.7 507.3 473.0 507.2 473.3 507.1 473.5 507.0 473.8 506.9 474.1 506.9 474.3 507.0 474.6 507.0 474.9 507.0 475.2 507.0 475.4 507.1 475.7 507.1 476.0 507.2 476.2 507.3 476.5 507.5 476.8 507.7 477.0 507.9 477.3 508.1 477.6 508.2 477.9 508.2 478.1 507.9 478.4 507.5 478.7 507.0 478.9 506.4 479.2 506.0 479.5 505.7 479.7 505.6 480.0 505.7 480.3 505.7 480.6 505.9 480.8 506.0 481.1 506.1 481.4 506.2 481.6 506.2 481.9 506.2 482.2 506.1 482.4 506.1 482.7 506.0 483.0 506.1 483.2 506.3 483.5 506.6 483.8 507.0 484.1 507.3 484.3 507.6 484.6 507.7 484.9 507.6 485.1 507.4 485.4 507.2 485.7 507.2 486.0 507.2 486.2 507.4 486.5 507.5 486.8 507.5 487.0 507.2 487.3 506.6 487.6 505.9 487.8 505.2 488.1 504.6 488.4 504.3 488.7 504.4 488.9 504.8 489.2 505.5 489.5 506.2 489.7 506.9 490.0 507.4 490.3 507.7 490.5 507.9 490.8 507.9 491.1 507.9 491.4 508.0 491.6 508.0 491.9 508.1 492.2 508.3 492.4 508.4 492.7 508.5 493.0 508.5 493.2 508.4 493.5 508.3 493.8 508.2 494.1 507.9 494.3 507.6 494.6 507.3 494.9 507.0 495.1 506.7 495.4 506.4 495.7 506.3 495.9 506.2 496.2 506.3 496.5 506.4 496.8 506.6 497.0 506.7 497.3 506.8 497.6 506.9 497.8 507.0 498.1 507.0 498.4 507.0 498.6 507.0 498.9 506.9 499.2 506.9 499.5 506.9 499.7 507.0 500.0 507.1 500.3 507.2 500.5 507.4 500.8 507.5 501.1 507.6 501.3 507.7 501.6 507.8 501.9 508.0 502.2 508.4 502.4 508.8 502.7 509.2 503.0 509.4 503.2 509.4 503.5 509.0 503.8 508.4 504.0 507.5 504.3 506.7 504.6 506.0 504.9 505.5 505.1 505.3 505.4 505.4 505.7 505.8 505.9 506.3 506.2 506.9 506.5 507.4 506.7 507.7 507.0 507.7 507.3 507.5 507.6 507.1 507.8 506.8 508.1 506.6 508.4 506.6 508.6 506.8 508.9 507.2 509.2 507.7 509.4 508.1 509.7 508.2 510.0 508.0 510.2 507.5 510.5 506.7 510.8 505.9 511.1 505.3 511.3 504.9 511.6 504.9 511.9 505.2 512.1 505.8 512.4 506.6 512.7 507.3 513.0 507.9 513.2 508.1 513.5 508.0 513.8 507.6 514.0 507.1 514.3 506.6 514.6 506.1 514.8 505.9 515.1 506.0 515.4 506.2 515.7 506.5 515.9 506.8 516.2 507.0 516.5 506.9 516.7 506.7 517.0 506.5 517.3 506.2 517.5 506.1 517.8 506.1 518.1 506.1 518.4 506.3 518.6 506.4 518.9 506.5 519.2 506.6 519.4 506.6 519.7 506.7 520.0 506.8 520.2 506.9 520.5 507.0 520.8 507.1 521.0 507.1 521.3 507.2 521.6 507.2 521.9 507.3 522.1 507.4 522.4 507.3 522.7 507.2 522.9 507.0 523.2 506.8 523.5 506.5 523.8 506.4 524.0 506.3 524.3 506.3 524.6 506.3 524.8 506.4 525.1 506.6 525.4 506.7 525.6 506.8 525.9 506.9 526.2 507.0 526.5 507.1 526.7 507.1 527.0 507.2 527.3 507.2 527.5 507.3 527.8 507.4 528.1 507.4 528.3 507.5 528.6 507.5 528.9 507.5 529.2 507.5 529.4 507.3 529.7 507.2 530.0 507.0 530.2 506.8 530.5 506.7 530.8 506.6 531.0 506.6 531.3 506.7 531.6 506.7 531.9 506.8 532.1 506.8 532.4 506.7 532.7 506.6 532.9 506.5 533.2 506.5 533.5 506.6 533.7 506.8 534.0 507.1 534.3 507.5 534.5 507.8 534.8 507.9 535.1 507.9 535.4 507.7 535.6 507.4 535.9 507.1 536.2 506.8 536.4 506.8 536.7 507.0 537.0 507.4 537.2 507.7 537.5 507.7 537.8 507.5 538.1 507.1 538.3 506.7 538.6 506.4 538.9 506.3 539.1 506.6 539.4 507.1 539.7 507.7 540.0 508.2 540.2 508.5 540.5 508.4 540.8 508.1 541.0 507.4 541.3 506.7 541.6 505.9 541.8 505.3 542.1 505.0 542.4 504.9 542.7 505.1 542.9 505.5 543.2 506.1 543.5 506.6 543.7 506.9 544.0 507.1 544.3 507.2 544.5 507.1 544.8 507.1 545.1 507.0 545.4 506.9 545.6 506.8 545.9 506.7 546.2 506.7 546.4 506.9 546.7 507.3 547.0 507.8 547.2 508.3 547.5 508.6 547.8 508.7 548.1 508.3 548.3 507.7 548.6 506.9 548.9 506.0 549.1 505.1 549.4 504.6 549.7 504.4 549.9 504.6 550.2 505.1 550.5 505.8 550.8 506.5 551.0 507.2 551.3 507.7 551.6 507.9 551.8 507.9 552.1 507.8 552.4 507.6 552.6 507.4 552.9 507.3 553.2 507.2 553.5 507.2 553.7 507.3 554.0 507.3 554.3 507.3 554.5 507.2 554.8 507.1 555.1 507.0 555.3 506.9 555.6 506.9 555.9 506.9 556.2 507.0 556.4 507.0 556.7 507.0 557.0 506.9 557.2 506.7 557.5 506.5 557.8 506.4 558.0 506.4 558.3 506.6 558.6 506.8 558.9 507.1 559.1 507.4 559.4 507.5 559.7 507.5 559.9 507.3 560.2 507.0 560.5 506.7 560.7 506.6 561.0 506.5 561.3 506.6 561.6 506.7 561.8 506.8 562.1 507.0 562.4 507.1 562.6 507.1 562.9 507.1 563.2 507.2 563.4 507.2 563.7 507.3 564.0 507.4 564.2 507.5 564.5 507.4 564.8 507.2 565.1 506.9 565.3 506.5 565.6 506.2 565.9 506.0 566.1 506.1 566.4 506.4 566.7 506.9 567.0 507.4 567.2 507.8 567.5 508.1 567.8 508.2 568.0 508.1 568.3 507.9 568.6 507.6 568.8 507.4 569.1 507.3 569.4 507.2 569.7 507.1 569.9 507.0 570.2 506.9 570.5 506.9 570.7 506.8 571.0 506.8 571.3 506.8 571.5 506.8 571.8 506.8 572.1 506.7 572.4 506.8 572.6 507.0 572.9 507.2 573.2 507.5 573.4 507.7 573.7 507.8 574.0 507.7 574.2 507.6 574.5 507.4 574.8 507.2 575.1 507.2 575.3 507.2 575.6 507.3 575.9 507.4 576.1 507.6 576.4 507.6 576.7 507.6 576.9 507.5 577.2 507.3 577.5 507.0 577.8 506.6 578.0 506.2 578.3 505.7 578.6 505.3 578.8 505.1 579.1 505.1 579.4 505.3 579.6 505.7 579.9 506.2 580.2 506.7 580.5 507.1 580.7 507.4 581.0 507.5 581.3 507.5 581.5 507.4 581.8 507.2 582.1 507.1 582.3 507.0 582.6 506.9 582.9 506.7 583.2 506.6 583.4 506.4 583.7 506.3 584.0 506.3 584.2 506.4 584.5 506.6 584.8 507.0 585.0 507.4 585.3 507.8 585.6 508.1 585.9 508.2 586.1 508.2 586.4 508.1 586.7 508.0 586.9 507.8 587.2 507.6 587.5 507.4 587.7 507.3 588.0 507.1 588.3 507.0 588.5 506.8 588.8 506.7 589.1 506.5 589.4 506.5 589.6 506.6 589.9 506.7 590.2 506.9 590.4 507.1 590.7 507.3 591.0 507.5 591.2 507.6 591.5 507.6 591.8 507.6 592.1 507.6 592.3 507.5 592.6 507.4 592.9 507.3 593.1 507.2 593.4 507.1 593.7 507.1 594.0 507.1 594.2 507.1 594.5 507.1 594.8 507.1 595.0 507.1 595.3 507.1 595.6 507.1 595.8 507.2 596.1 507.2 596.4 507.2 596.7 507.1 596.9 507.0 597.2 507.0 597.5 506.9 597.7 506.8 598.0 506.8 598.3 506.7 598.5 506.7 598.8 506.7 599.1 506.7 599.4 506.8 599.6 506.8 599.9 506.9 600.2 507.0 600.4 507.1 600.7 507.2 601.0 507.3 601.2 507.3 601.5 507.3 601.8 507.3 602.0 507.2 602.3 507.1 602.6 507.0 602.9 507.0 603.1 507.0 603.4 507.1 603.7 507.2 603.9 507.4 604.2 507.5 604.5 507.5 604.8 507.4 605.0 507.0 605.3 506.5 605.6 506.1 605.8 505.7 606.1 505.5 606.4 505.7 606.6 506.1 606.9 506.6 607.2 507.2 607.5 507.6 607.7 507.7 608.0 507.4 608.3 507.0 608.5 506.4 608.8 505.8 609.1 505.5 609.3 505.5 609.6 505.6 609.9 505.9 610.2 506.3 610.4 506.5 610.7 506.6 611.0 506.6 611.2 506.6 611.5 506.6 611.8 506.8 612.0 507.1 612.3 507.3 612.6 507.5 612.9 507.5 613.1 507.5 613.4 507.3 613.7 507.2 613.9 507.1 614.2 507.0 614.5 506.9 614.7 507.0 615.0 507.1 615.3 507.5 615.5 508.0 615.8 508.7 616.1 509.4 616.4 509.9 616.6 510.1 616.9 509.9 617.2 509.4 617.4 508.5 617.7 507.5 618.0 506.5 618.2 505.8 618.5 505.4 618.8 505.3 619.1 505.5 619.3 505.8 619.6 506.2 619.9 506.5 620.1 506.7 620.4 506.8 620.7 506.8 621.0 506.7 621.2 506.7 621.5 506.8 621.8 507.0 622.0 507.2 622.3 507.5 622.6 507.7 622.8 507.8 623.1 507.7 623.4 507.5 623.7 507.3 623.9 507.2 624.2 507.0 624.5 506.9 624.7 506.6 625.0 506.3 625.3 505.9 625.5 505.7 625.8 505.7 626.1 506.0 626.4 506.5 626.6 507.2 626.9 507.8 627.2 508.4 627.4 508.7 627.7 508.8 628.0 508.6 628.2 508.2 628.5 507.8 628.8 507.4 629.0 507.1 629.3 507.0 629.6 507.1 629.9 507.3 630.1 507.6 630.4 507.8 630.7 507.8 630.9 507.6 631.2 507.2 631.5 506.6 631.8 505.9 632.0 505.4 632.3 505.2 632.6 505.3 632.8 505.5 633.1 506.0 633.4 506.4 633.6 506.7 633.9 506.8 634.2 506.8 634.5 506.6 634.7 506.4 635.0 506.2 635.3 506.2 635.5 506.2 635.8 506.4 636.1 506.6 636.3 506.8 636.6 506.9 636.9 507.0 637.2 507.1 637.4 507.1 637.7 507.1 638.0 507.1 638.2 507.2 638.5 507.2 638.8 507.2 639.0 507.2 639.3 507.2 639.6 507.1 639.9 506.9 640.1 506.8 640.4 506.7 640.7 506.6 640.9 506.6 641.2 506.6 641.5 506.8 641.7 506.9 642.0 506.9 642.3 507.0 642.5 507.0 642.8 507.1 643.1 507.1 643.4 507.1 643.6 507.1 643.9 506.9 644.2 506.7 644.4 506.5 644.7 506.4 645.0 506.4 645.2 506.5 645.5 506.7 645.8 507.0 646.1 507.4 646.3 507.6 646.6 507.6 646.9 507.3 647.1 506.7 647.4 505.9 647.7 505.1 648.0 504.5 648.2 504.2 648.5 504.3 648.8 504.7 649.0 505.5 649.3 506.5 649.6 507.5 649.8 508.4 650.1 509.1 650.4 509.4 650.7 509.3 650.9 509.0 651.2 508.5 651.5 508.0 651.7 507.6 652.0 507.4 652.3 507.3 652.5 507.3 652.8 507.3 653.1 507.3 653.4 507.2 653.6 507.1 653.9 507.0 654.2 507.1 654.4 507.4 654.7 507.7 655.0 508.2 655.2 508.6 655.5 508.8 655.8 508.8 656.0 508.6 656.3 508.2 656.6 507.7 656.9 507.3 657.1 506.9 657.4 506.7 657.7 506.5 657.9 506.4 658.2 506.4 658.5 506.5 658.8 506.5 659.0 506.6 659.3 506.7 659.6 506.8 659.8 506.9 660.1 507.0 660.4 507.0 660.6 507.0 660.9 507.0 661.2 506.9 661.5 506.9 661.7 506.9 662.0 506.8 662.3 506.8 662.5 506.8 662.8 506.8 663.1 506.8 663.3 506.9 663.6 506.9 663.9 507.0 664.2 507.0 664.4 507.1 664.7 507.1 665.0 507.2 665.2 507.2 665.5 507.2 665.8 507.2 666.0 507.1 666.3 507.1 666.6 507.1 666.9 507.1 667.1 507.0 667.4 507.0 667.7 506.9 667.9 506.8 668.2 506.6 668.5 506.4 668.7 506.2 669.0 506.1 669.3 506.3 669.5 506.7 669.8 507.4 670.1 508.0 670.4 508.6 670.6 509.0 670.9 509.1 671.2 509.1 671.4 509.0 671.7 508.9 672.0 508.7 672.2 508.5 672.5 508.3 672.8 507.8 673.1 507.3 673.3 506.6 673.6 506.0 673.9 505.4 674.1 505.1 674.4 505.1 674.7 505.5 675.0 506.1 675.2 507.0 675.5 507.7 675.8 508.1 676.0 508.3 676.3 508.2 676.6 507.9 676.8 507.7 677.1 507.4 677.4 507.2 677.7 507.1 677.9 507.1 678.2 507.0 678.5 507.0 678.7 507.0 679.0 506.8 679.3 506.6 679.5 506.3 679.8 506.0 680.1 505.7 680.4 505.5 680.6 505.3 680.9 505.2 681.2 505.2 681.4 505.3 681.7 505.6 682.0 505.9 682.2 506.3 682.5 506.8 682.8 507.3 683.0 507.7 683.3 508.0 683.6 508.1 683.9 508.1 684.1 507.9 684.4 507.6 684.7 507.1 684.9 506.6 685.2 505.9 685.5 505.3 685.8 504.7 686.0 504.3 686.3 504.2 686.6 504.5 686.8 505.2 687.1 506.3 687.4 507.5 687.6 508.6 687.9 509.3 688.2 509.6 688.5 509.5 688.7 508.9 689.0 508.2 689.3 507.4 689.5 506.8 689.8 506.4 690.1 506.3 690.3 506.3 690.6 506.5 690.9 506.8 691.2 507.0 691.4 507.2 691.7 507.3 692.0 507.3 692.2 507.3 692.5 507.2 692.8 507.1 693.0 506.9 693.3 506.7 693.6 506.4 693.9 506.2 694.1 506.0 694.4 505.9 694.7 505.9 694.9 506.0 695.2 506.2 695.5 506.4 695.7 506.5 696.0 506.5 696.3 506.5 696.5 506.5 696.8 506.7 697.1 507.0 697.4 507.4 697.6 507.9 697.9 508.3 698.2 508.5 698.4 508.5 698.7 508.3 699.0 507.9 699.2 507.5 699.5 507.2 699.8 507.1 700.1 507.3 700.3 507.7 700.6 508.2 700.9 508.6 701.1 508.7 701.4 508.4 701.7 507.6 702.0 506.5 702.2 505.3 702.5 504.2 702.8 503.5 703.0 503.4 703.3 503.7 703.6 504.5 703.8 505.3 704.1 506.1 704.4 506.6 704.7 506.9 704.9 506.8 705.2 506.7 705.5 506.6 705.7 506.7 706.0 506.9 706.3 507.3 706.5 507.6 706.8 507.9 707.1 508.1 707.4 508.2 707.6 508.2 707.9 508.2 708.2 508.1 708.4 508.0 708.7 507.9 709.0 507.7 709.2 507.5 709.5 507.1 709.8 506.8 710.0 506.4 710.3 506.2 710.6 506.2 710.9 506.4 711.1 506.7 711.4 507.2 711.7 507.6 711.9 507.9 712.2 508.1 712.5 508.0 712.8 507.8 713.0 507.6 713.3 507.4 713.6 507.3 713.8 507.3 714.1 507.3 714.4 507.3 714.6 507.2 714.9 507.1 715.2 506.9 715.5 506.6 715.7 506.4 716.0 506.3 716.3 506.2 716.5 506.2 716.8 506.4 717.1 506.5 717.3 506.7 717.6 506.8 717.9 506.9 718.2 507.0 718.4 507.0 718.7 507.1 719.0 507.1 719.2 507.1 719.5 507.1 719.8 507.2 720.0 507.2 720.3 507.2 720.6 507.2 720.9 507.2 721.1 507.1 721.4 507.1 721.7 507.1 721.9 507.0 722.2 507.0 722.5 507.0 722.7 506.9 723.0 506.9 723.3 506.8 723.5 506.8 723.8 506.8 724.1 506.8 724.4 506.9 724.6 507.0 724.9 507.1 725.2 507.2 725.4 507.2 725.7 507.2 726.0 507.1 726.2 507.0 726.5 507.0 726.8 506.9 727.1 506.9 727.3 507.0 727.6 507.1 727.9 507.2 728.1 507.4 728.4 507.5 728.7 507.7 729.0 507.9 729.2 508.0 729.5 507.8 729.8 507.5 730.0 507.0 730.3 506.4 730.6 505.9 730.8 505.5 731.1 505.4 731.4 505.5 731.7 505.8 731.9 506.1 732.2 506.4 732.5 506.6 732.7 506.7 733.0 506.7 733.3 506.8 733.5 507.0 733.8 507.3 734.1 507.6 734.4 507.9 734.6 508.0 734.9 508.0 735.2 508.0 735.4 507.8 735.7 507.7 736.0 507.5 736.2 507.3 736.5 507.1 736.8 506.7 737.0 506.2 737.3 505.7 737.6 505.2 737.9 504.9 738.1 504.9 738.4 505.1 738.7 505.6 738.9 506.2 739.2 506.9 739.5 507.5 739.8 508.0 740.0 508.3 740.3 508.3 740.6 508.2 740.8 508.0 741.1 507.8 741.4 507.5 741.6 507.3 741.9 507.2 742.2 507.1 742.5 507.0 742.7 507.0 743.0 507.0 743.3 507.1 743.5 507.1 743.8 507.1 744.1 507.1 744.3 507.1 744.6 507.1 744.9 507.1 745.2 507.0 745.4 507.0 745.7 506.9 746.0 506.9 746.2 506.8 746.5 506.8 746.8 506.7 747.0 506.8 747.3 506.8 747.6 506.8 747.9 506.9 748.1 506.9 748.4 507.0 748.7 507.0 748.9 507.0 749.2 507.0 749.5 507.0 749.7 507.0 750.0 507.0 750.3 507.1 750.5 507.1 750.8 507.1 751.1 507.1 751.4 507.1 751.6 507.1 751.9 507.1 752.2 507.0 752.4 507.0 752.7 506.9 753.0 506.9 753.2 506.7 753.5 506.6 753.8 506.5 754.1 506.4 754.3 506.5 754.6 506.6 754.9 506.8 755.1 507.0 755.4 507.3 755.7 507.4 756.0 507.5 756.2 507.5 756.5 507.4 756.8 507.2 757.0 506.9 757.3 506.6 757.6 506.2 757.8 505.8 758.1 505.7 758.4 505.7 758.7 506.0 758.9 506.5 759.2 507.0 759.5 507.6 759.7 507.9 760.0 508.1 760.3 508.1 760.5 507.9 760.8 507.8 761.1 507.7 761.4 507.8 761.6 507.9 761.9 508.0 762.2 508.0 762.4 507.9 762.7 507.7 763.0 507.4 763.2 507.1 763.5 507.0 763.8 506.9 764.1 507.1 764.3 507.3 764.6 507.5 764.9 507.8 765.1 508.0 765.4 508.0 765.7 507.9 765.9 507.7 766.2 507.5 766.5 507.2 766.8 507.0 767.0 506.9 767.3 506.9 767.6 507.0 767.8 507.2 768.1 507.3 768.4 507.2 768.6 507.1 768.9 506.8 769.2 506.6 769.5 506.5 769.7 506.4 770.0 506.6 770.3 506.8 770.5 507.0 770.8 507.2 771.1 507.3 771.3 507.3 771.6 507.2 771.9 507.1 772.2 507.0 772.4 507.0 772.7 506.9 773.0 506.8 773.2 506.7 773.5 506.6 773.8 506.7 774.0 506.9 774.3 507.1 774.6 507.4 774.9 507.7 775.1 508.0 775.4 508.3 775.7 508.5 775.9 508.6 776.2 508.7 776.5 508.6 776.7 508.4 777.0 507.9 777.3 507.2 777.6 506.4 777.8 505.5 778.1 504.9 778.4 504.5 778.6 504.5 778.9 504.9 779.2 505.5 779.4 506.3 779.7 506.9 780.0 507.3 780.2 507.4 780.5 507.2 780.8 506.7 781.1 506.2 781.3 505.7 781.6 505.4 781.9 505.3 782.1 505.6 782.4 506.2 782.7 506.9 783.0 507.6 783.2 508.2 783.5 508.5 783.8 508.4 784.0 508.0 784.3 507.3 784.6 506.6 784.8 505.9 785.1 505.4 785.4 505.2 785.7 505.3 785.9 505.6 786.2 506.0 786.5 506.3 786.7 506.7 787.0 506.9 787.3 506.9 787.5 506.8 787.8 506.5 788.1 506.2 788.4 505.9 788.6 505.8 788.9 505.8 789.2 506.1 789.4 506.7 789.7 507.3 790.0 507.8 790.2 508.2 790.5 508.4 790.8 508.3 791.1 507.9 791.3 507.4 791.6 506.8 791.9 506.3 792.1 505.9 792.4 505.8 792.7 505.8 792.9 506.0 793.2 506.4 793.5 506.8 793.8 507.1 794.0 507.4 794.3 507.6 794.6 507.8 794.8 507.8 795.1 507.8 795.4 507.7 795.6 507.6 795.9 507.5 796.2 507.3 796.5 507.2 796.7 507.1 797.0 507.0 797.3 506.9 797.5 506.9 797.8 506.9 798.1 506.9 798.3 507.0 798.6 507.0 798.9 507.0 799.2 507.0 799.4 507.0 799.7 506.9 800.0 507.0 800.2 507.0 800.5 507.0 800.8 507.0 801.0 507.0 801.3 507.0 801.6 506.9 801.9 506.8 802.1 506.8 802.4 506.8 802.7 506.9 802.9 507.1 803.2 507.4 803.5 507.7 803.7 508.0 804.0 508.2 804.3 508.4 804.6 508.5 804.8 508.4 805.1 508.3 805.4 508.1 805.6 507.8 805.9 507.4 806.2 506.9 806.4 506.5 806.7 506.0 807.0 505.7 807.2 505.4 807.5 505.4 807.8 505.5 808.1 505.9 808.3 506.3 808.6 506.8 808.9 507.3 809.1 507.6 809.4 507.7 809.7 507.6 810.0 507.4 810.2 507.2 810.5 507.0 810.8 507.0 811.0 506.9 811.3 506.9 811.6 506.9 811.8 506.9 812.1 506.9 812.4 506.9 812.7 507.0 812.9 507.2 813.2 507.4 813.5 507.6 813.7 507.9 814.0 508.0 814.3 507.9 814.5 507.6 814.8 507.0 815.1 506.4 815.4 505.9 815.6 505.5 815.9 505.3 816.2 505.4 816.4 505.8 816.7 506.3 817.0 506.9 817.2 507.5 817.5 507.9 817.8 508.0 818.1 507.9 818.3 507.5 818.6 507.0 818.9 506.6 819.1 506.4 819.4 506.5 819.7 506.9 819.9 507.5 820.2 508.0 820.5 508.3 820.8 508.3 821.0 508.0 821.3 507.5 821.6 506.9 821.8 506.4 822.1 506.1 822.4 506.0 822.6 506.1 822.9 506.3 823.2 506.5 823.5 506.6 823.7 506.6 824.0 506.5 824.3 506.2 824.5 506.1 824.8 505.9 825.1 506.0 825.3 506.1 825.6 506.3 825.9 506.6 826.2 506.8 826.4 506.9 826.7 507.0 827.0 507.1 827.2 507.1 827.5 507.1 827.8 507.1 828.0 507.1 828.3 507.3 828.6 507.5 828.9 507.6 829.1 507.6 829.4 507.5 829.7 507.3 829.9 507.0 830.2 506.7 830.5 506.6 830.7 506.7 831.0 507.1 831.3 507.6 831.6 508.2 831.8 508.7 832.1 508.9 832.4 508.7 832.6 508.2 832.9 507.3 833.2 506.3 833.4 505.4 833.7 504.6 834.0 504.2 834.2 504.1 834.5 504.3 834.8 504.7 835.1 505.2 835.3 505.5 835.6 505.7 835.9 505.7 836.1 505.6 836.4 505.5 836.7 505.5 837.0 505.7 837.2 506.1 837.5 506.7 837.8 507.4 838.0 508.1 838.3 508.6 838.6 508.9 838.8 508.9 839.1 508.7 839.4 508.3 839.7 507.7 839.9 507.1 840.2 506.4 840.5 505.7 840.7 505.0 841.0 504.4 841.3 504.2 841.5 504.2 841.8 504.5 842.1 505.0 842.4 505.7 842.6 506.5 842.9 507.1 843.2 507.6 843.4 507.9 843.7 508.0 844.0 508.0 844.2 507.8 844.5 507.6 844.8 507.3 845.0 507.1 845.3 506.9 845.6 506.8 845.9 506.7 846.1 506.7 846.4 506.7 846.7 506.8 846.9 506.9 847.2 507.0 847.5 507.0 847.8 507.1 848.0 507.1 848.3 507.0 848.6 506.9 848.8 506.8 849.1 506.7 849.4 506.8 849.6 507.0 849.9 507.3 850.2 507.7 850.5 508.1 850.7 508.5 851.0 508.6 851.3 508.6 851.5 508.5 851.8 508.2 852.1 507.9 852.3 507.6 852.6 507.4 852.9 507.1 853.2 506.8 853.4 506.6 853.7 506.3 854.0 506.1 854.2 506.0 854.5 506.1 854.8 506.2 855.0 506.3 855.3 506.5 855.6 506.7 855.9 506.9 856.1 507.1 856.4 507.2 856.7 507.3 856.9 507.4 857.2 507.4 857.5 507.3 857.7 507.2 858.0 507.1 858.3 507.1 858.5 507.0 858.8 507.0 859.1 507.0 859.4 507.1 859.6 507.1 859.9 507.1 860.2 507.1 860.4 507.0 860.7 506.8 861.0 506.6 861.2 506.4 861.5 506.2 861.8 506.1 862.1 506.2 862.3 506.4 862.6 506.8 862.9 507.1 863.1 507.4 863.4 507.7 863.7 507.8 864.0 507.9 864.2 508.0 864.5 508.1 864.8 508.2 865.0 508.3 865.3 508.3 865.6 508.1 865.8 507.8 866.1 507.4 866.4 507.0 866.7 506.6 866.9 506.3 867.2 506.1 867.5 506.1 867.7 506.2 868.0 506.3 868.3 506.5 868.5 506.6 868.8 506.7 869.1 506.8 869.4 506.9 869.6 507.0 869.9 507.0 870.2 507.0 870.4 507.0 870.7 507.0 871.0 507.1 871.2 507.2 871.5 507.4 871.8 507.5 872.0 507.7 872.3 507.8 872.6 507.8 872.9 507.6 873.1 507.3 873.4 507.0 873.7 506.7 873.9 506.4 874.2 506.2 874.5 506.1 874.8 505.8 875.0 505.6 875.3 505.2 875.6 504.7 875.8 504.3 876.1 504.1 876.4 504.2 876.6 504.5 876.9 505.2 877.2 506.2 877.5 507.2 877.7 508.2 878.0 508.9 878.3 509.4 878.5 509.5 878.8 509.2 879.1 508.7 879.3 508.0 879.6 507.3 879.9 506.6 880.2 506.1 880.4 505.8 880.7 505.8 881.0 506.1 881.2 506.5 881.5 506.9 881.8 507.3 882.0 507.6 882.3 507.7 882.6 507.6 882.9 507.5 883.1 507.3 883.4 507.1 883.7 506.9 883.9 506.8 884.2 506.7 884.5 506.7 884.7 506.7 885.0 506.7 885.3 506.7 885.5 506.8 885.8 506.9 886.1 506.9 886.4 507.0 886.6 507.0 886.9 507.0 887.2 507.1 887.4 507.1 887.7 507.1 888.0 507.2 888.2 507.2 888.5 507.3 888.8 507.3 889.1 507.4 889.3 507.3 889.6 507.3 889.9 507.2 890.1 507.1 890.4 507.0 890.7 507.0 891.0 507.0 891.2 506.9 891.5 506.8 891.8 506.6 892.0 506.2 892.3 505.8 892.6 505.2 892.8 504.6 893.1 504.1 893.4 503.7 893.7 503.7 893.9 504.1 894.2 504.9 894.5 506.1 894.7 507.4 895.0 508.8 895.3 509.8 895.5 510.4 895.8 510.5 896.1 510.0 896.4 509.2 896.6 508.3 896.9 507.3 897.2 506.6 897.4 506.1 897.7 505.8 898.0 505.9 898.2 506.1 898.5 506.4 898.8 506.8 899.0 507.1 899.3 507.4 899.6 507.4 899.9 507.4 900.1 507.3 900.4 507.3 900.7 507.3 900.9 507.2 901.2 507.2 901.5 507.1 901.8 507.1 902.0 507.0 902.3 507.0 902.6 506.9 902.8 506.9 903.1 506.9 903.4 506.9 903.6 507.0 903.9 507.1 904.2 507.2 904.5 507.3 904.7 507.3 905.0 507.3 905.3 507.3 905.5 507.1 905.8 506.9 906.1 506.6 906.3 506.5 906.6 506.4 906.9 506.4 907.2 506.6 907.4 506.8 907.7 507.0 908.0 507.1 908.2 507.2 908.5 507.3 908.8 507.3 909.0 507.2 909.3 507.2 909.6 507.2 909.9 507.2 910.1 507.1 910.4 507.1 910.7 507.1 910.9 507.0 911.2 506.8 911.5 506.6 911.7 506.4 912.0 506.3 912.3 506.4 912.5 506.6 912.8 506.9 913.1 507.3 913.4 507.8 913.6 508.3 913.9 508.6 914.2 508.6 914.4 508.4 914.7 508.0 915.0 507.5 915.2 506.9 915.5 506.4 915.8 506.1 916.1 506.0 916.3 506.1 916.6 506.3 916.9 506.6 917.1 506.8 917.4 506.9 917.7 507.0 918.0 507.0 918.2 507.0 918.5 507.0 918.8 506.8 919.0 506.6 919.3 506.3 919.6 506.2 919.8 506.3 920.1 506.5 920.4 506.8 920.7 507.1 920.9 507.4 921.2 507.5 921.5 507.5 921.7 507.4 922.0 507.5 922.3 507.6 922.5 507.8 922.8 508.0 923.1 508.0 923.4 507.9 923.6 507.6 923.9 507.2 924.2 506.8 924.4 506.4 924.7 506.3 925.0 506.3 925.2 506.5 925.5 506.8 925.8 507.1 926.0 507.3 926.3 507.4 926.6 507.4 926.9 507.4 927.1 507.3 927.4 507.3 927.7 507.2 927.9 507.1 928.2 507.1 928.5 507.1 928.8 507.0 929.0 507.0 929.3 506.9 929.6 506.9 929.8 506.9 930.1 506.8 930.4 506.8 930.6 506.8 930.9 506.8 931.2 506.8 931.5 506.9 931.7 506.9 932.0 506.9 932.3 507.0 932.5 507.1 932.8 507.2 933.1 507.3 933.3 507.3 933.6 507.4 933.9 507.3 934.2 507.2 934.4 507.1 934.7 506.9 935.0 506.8 935.2 506.8 935.5 506.8 935.8 506.9 936.0 507.0 936.3 507.1 936.6 507.1 936.9 507.1 937.1 507.1 937.4 507.1 937.7 507.0 937.9 507.0 938.2 506.9 938.5 506.9 938.7 506.8 939.0 506.7 939.3 506.7 939.5 506.8 939.8 506.9 940.1 507.1 940.4 507.4 940.6 507.6 940.9 507.7 941.2 507.6 941.4 507.4 941.7 507.2 942.0 507.0 942.2 506.8 942.5 506.8 942.8 506.9 943.1 507.0 943.3 507.1 943.6 507.1 943.9 507.1 944.1 507.0 944.4 506.9 944.7 506.8 945.0 506.7 945.2 506.7 945.5 506.7 945.8 506.7 946.0 506.8 946.3 506.9 946.6 507.0 946.8 507.0 947.1 507.0 947.4 507.0 947.7 506.9 947.9 506.8 948.2 506.7 948.5 506.6 948.7 506.5 949.0 506.6 949.3 506.7 949.5 506.9 949.8 507.0 950.1 507.2 950.4 507.3 950.6 507.3 950.9 507.2 951.2 507.1 951.4 506.9 951.7 506.9 952.0 506.8 952.2 506.9 952.5 507.0 952.8 507.1 953.0 507.2 953.3 507.2 953.6 507.2 953.9 507.2 954.1 507.2 954.4 507.2 954.7 507.1 954.9 507.1 955.2 507.1 955.5 507.0 955.8 507.0 956.0 507.0 956.3 507.0 956.6 507.0 956.8 507.0 957.1 507.0 957.4 507.0 957.6 507.0 957.9 507.0 958.2 506.9 958.5 506.9 958.7 506.9 959.0 506.9 959.3 506.9 959.5 506.9 959.8 507.0 960.1 507.1 960.3 507.3 960.6 507.4 960.9 507.5 961.2 507.4 961.4 507.2 961.7 506.9 962.0 506.5 962.2 506.2 962.5 506.0 962.8 506.1 963.0 506.3 963.3 506.7 963.6 507.1 963.9 507.5 964.1 507.8 964.4 507.9 964.7 507.9 964.9 507.9 965.2 507.7 965.5 507.6 965.7 507.4 966.0 507.2 966.3 507.1 966.5 507.0 966.8 506.9 967.1 506.9 967.4 506.8 967.6 506.9 967.9 506.9 968.2 506.9 968.4 506.9 968.7 506.9 969.0 506.9 969.2 507.0 969.5 507.0 969.8 507.0 970.1 507.0 970.3 507.0 970.6 507.1 970.9 507.2 971.1 507.3 971.4 507.4 971.7 507.5 972.0 507.5 972.2 507.4 972.5 507.3 972.8 507.2 973.0 507.0 973.3 506.9 973.6 506.9 973.8 507.0 974.1 507.3 974.4 507.7 974.7 508.2 974.9 508.6 975.2 509.0 975.5 509.1 975.7 508.9 976.0 508.5 976.3 507.7 976.5 506.8 976.8 505.8 977.1 505.0 977.4 504.5 977.6 504.5 977.9 504.9 978.2 505.7 978.4 506.6 978.7 507.4 979.0 507.9 979.2 508.0 979.5 507.9 979.8 507.6 980.0 507.2 980.3 506.8 980.6 506.5 980.9 506.4 981.1 506.5 981.4 506.6 981.7 506.8 981.9 506.9 982.2 507.0 982.5 507.1 982.8 507.2 983.0 507.2 983.3 507.2 983.6 507.2 983.8 507.2 984.1 507.1 984.4 507.1 984.6 507.0 984.9 506.9 985.2 506.8 985.5 506.8 985.7 506.8 986.0 506.8 986.3 506.8 986.5 506.8 986.8 506.8 987.1 506.9 987.3 507.0 987.6 507.2 987.9 507.3 988.2 507.4 988.4 507.4 988.7 507.4 989.0 507.2 989.2 507.1 989.5 506.9 989.8 506.8 990.0 506.7 990.3 506.7 990.6 506.8 990.9 506.9 991.1 507.2 991.4 507.5 991.7 507.8 991.9 508.0 992.2 508.1 992.5 508.0 992.7 507.7 993.0 507.3 993.3 506.9 993.5 506.6 993.8 506.3 994.1 506.2 994.4 506.2 994.6 506.3 994.9 506.4 995.2 506.6 995.4 506.8 995.7 506.9 996.0 507.0 996.2 507.0 996.5 507.1 996.8 507.1 997.1 507.1 997.3 507.1 997.6 507.1 997.9 507.0 998.1 507.0 998.4 506.9 998.7 506.9 999.0 506.9 999.2 507.0 999.5 507.1 999.8 507.2 1000.0 507.2 1000.3 507.3 1000.6 507.3 1000.8 507.3 1001.1 507.2 1001.4 507.0 1001.7 506.7 1001.9 506.5 1002.2 506.2 1002.5 506.0 1002.7 505.9 1003.0 505.8 1003.3 506.0 1003.5 506.2 1003.8 506.6 1004.1 507.0 1004.4 507.4 1004.6 507.8 1004.9 508.2 1005.2 508.4 1005.4 508.6 1005.7 508.6 1006.0 508.4 1006.2 508.1 1006.5 507.6 1006.8 507.1 1007.0 506.6 1007.3 506.2 1007.6 506.0 1007.9 505.9 1008.1 506.0 1008.4 506.2 1008.7 506.6 1008.9 506.9 1009.2 507.2 1009.5 507.4 1009.8 507.5 1010.0 507.4 1010.3 507.2 1010.6 506.9 1010.8 506.6 1011.1 506.4 1011.4 506.2 1011.6 506.1 1011.9 506.1 1012.2 506.3 1012.5 506.6 1012.7 507.0 1013.0 507.5 1013.3 507.9 1013.5 508.1 1013.8 508.2 1014.1 508.2 1014.3 508.0 1014.6 507.7 1014.9 507.5 1015.2 507.2 1015.4 507.1 1015.7 507.0 1016.0 506.9 1016.2 506.9 1016.5 506.9 1016.8 506.9 1017.0 506.9 1017.3 506.9 1017.6 507.0 1017.9 507.0 1018.1 507.0 1018.4 507.1 1018.7 507.1 1018.9 507.2 1019.2 507.2 1019.5 507.1 1019.7 507.1 1020.0 507.1 1020.3 507.1 1020.5 507.1 1020.8 507.1 1021.1 507.1 1021.4 507.1 1021.6 507.0 1021.9 506.9 1022.2 506.8 1022.4 506.7 1022.7 506.6 1023.0 506.6 1023.2 506.7 1023.5 506.8 1023.8 507.0 1024.1 507.2 1024.3 507.4 1024.6 507.5 1024.9 507.6 1025.1 507.6 1025.4 507.6 1025.7 507.5 1026.0 507.4 1026.2 507.3 1026.5 507.2 1026.8 507.1 1027.0 507.0 1027.3 507.0 1027.6 506.9 1027.8 506.8 1028.1 506.8 1028.4 506.7 1028.7 506.7 1028.9 506.8 1029.2 506.9 1029.5 506.9 1029.7 507.0 1030.0 507.1 1030.3 507.1 1030.5 507.1 1030.8 507.0 1031.1 507.0 1031.4 507.0 1031.6 507.0 1031.9 507.0 1032.2 507.0 1032.4 507.1 1032.7 507.3 1033.0 507.6 1033.2 507.7 1033.5 507.8 1033.8 507.5 1034.0 507.0 1034.3 506.2 1034.6 505.4 1034.9 504.8 1035.1 504.3 1035.4 504.1 1035.7 504.3 1035.9 504.7 1036.2 505.0 1036.5 505.4 1036.8 505.8 1037.0 506.1 1037.3 506.4 1037.6 506.6 1037.8 506.7 1038.1 506.9 1038.4 507.2 1038.6 507.5 1038.9 507.8 1039.2 508.2 1039.5 508.6 1039.7 508.9 1040.0 509.0 1040.3 508.9 1040.5 508.6 1040.8 508.1 1041.1 507.6 1041.3 507.2 1041.6 506.9 1041.9 506.8 1042.2 506.8 1042.4 506.9 1042.7 507.0 1043.0 507.1 1043.2 507.1 1043.5 507.0 1043.8 507.0 1044.0 507.0 1044.3 506.9 1044.6 506.9 1044.9 506.9 1045.1 506.9 1045.4 507.0 1045.7 507.0 1045.9 507.1 1046.2 507.1 1046.5 507.1 1046.7 507.0 1047.0 507.0 1047.3 507.0 1047.5 507.0 1047.8 507.0 1048.1 507.0 1048.4 507.1 1048.6 507.2 1048.9 507.5 1049.2 507.7 1049.4 507.8 1049.7 507.9 1050.0 507.7 1050.2 507.4 1050.5 506.9 1050.8 506.5 1051.1 506.0 1051.3 505.8 1051.6 505.8 1051.9 506.0 1052.1 506.4 1052.4 506.9 1052.7 507.4 1053.0 507.8 1053.2 508.0 1053.5 508.0 1053.8 507.8 1054.0 507.6 1054.3 507.4 1054.6 507.3 1054.8 507.3 1055.1 507.3 1055.4 507.4 1055.7 507.4 1055.9 507.3 1056.2 507.2 1056.5 506.9 1056.7 506.7 1057.0 506.5 1057.3 506.4 1057.5 506.4 1057.8 506.5 1058.1 506.7 1058.4 506.9 1058.6 507.1 1058.9 507.2 1059.2 507.2 1059.4 507.2 1059.7 507.2 1060.0 507.2 1060.2 507.1 1060.5 507.1 1060.8 507.1 1061.0 507.1 1061.3 507.1 1061.6 507.1 1061.9 507.2 1062.1 507.2 1062.4 507.2 1062.7 507.2 1062.9 507.1 1063.2 506.9 1063.5 506.6 1063.8 506.3 1064.0 506.1 1064.3 505.9 1064.6 505.9 1064.8 506.0 1065.1 506.2 1065.4 506.4 1065.6 506.7 1065.9 506.9 1066.2 507.0 1066.5 507.1 1066.7 507.2 1067.0 507.3 1067.3 507.5 1067.5 507.7 1067.8 507.9 1068.1 508.1 1068.3 508.3 1068.6 508.4 1068.9 508.4 1069.2 508.3 1069.4 508.1 1069.7 507.8 1070.0 507.4 1070.2 506.9 1070.5 506.4 1070.8 506.0 1071.0 505.7 1071.3 505.6 1071.6 505.6 1071.9 505.8 1072.1 506.1 1072.4 506.3 1072.7 506.5 1072.9 506.6 1073.2 506.5 1073.5 506.4 1073.7 506.3 1074.0 506.3 1074.3 506.4 1074.5 506.8 1074.8 507.3 1075.1 507.8 1075.4 508.4 1075.6 508.8 1075.9 508.9 1076.2 508.8 1076.4 508.3 1076.7 507.6 1077.0 506.8 1077.2 505.9 1077.5 505.3 1077.8 504.9 1078.1 504.8 1078.3 505.1 1078.6 505.7 1078.9 506.5 1079.1 507.4 1079.4 508.2 1079.7 508.8 1080.0 509.2 1080.2 509.2 1080.5 509.0 1080.8 508.5 1081.0 507.9 1081.3 507.3 1081.6 506.7 1081.8 506.3 1082.1 506.0 1082.4 505.9 1082.7 506.0 1082.9 506.2 1083.2 506.4 1083.5 506.7 1083.7 507.0 1084.0 507.1 1084.3 507.2 1084.5 507.2 1084.8 507.1 1085.1 507.1 1085.4 507.0 1085.6 507.0 1085.9 507.0 1086.2 507.0 1086.4 507.0 1086.7 507.1 1087.0 507.1 1087.2 507.1 1087.5 507.1 1087.8 507.0 1088.0 506.9 1088.3 506.8 1088.6 506.8 1088.9 506.8 1089.1 507.0 1089.4 507.1 1089.7 507.3 1089.9 507.4 1090.2 507.3 1090.5 507.2 1090.8 506.9 1091.0 506.6 1091.3 506.3 1091.6 506.1 1091.8 506.1 1092.1 506.2 1092.4 506.5 1092.6 506.9 1092.9 507.2 1093.2 507.5 1093.5 507.6 1093.7 507.5 1094.0 507.3 1094.3 507.0 1094.5 506.8 1094.8 506.8 1095.1 506.9 1095.3 507.1 1095.6 507.4 1095.9 507.8 1096.2 508.0 1096.4 508.1 1096.7 508.0 1097.0 507.8 1097.2 507.5 1097.5 507.2 1097.8 506.9 1098.0 506.7 1098.3 506.5 1098.6 506.4 1098.9 506.4 1099.1 506.6 1099.4 506.8 1099.7 507.0 1099.9 507.2 1100.2 507.3 1100.5 507.3 1100.7 507.1 1101.0 507.0 1101.3 506.8 1101.5 506.6 1101.8 506.6 1102.1 506.6 1102.4 506.7 1102.6 506.8 1102.9 506.9 1103.2 506.9 1103.4 506.9 1103.7 506.9 1104.0 506.9 1104.2 506.8 1104.5 506.8 1104.8 506.9 1105.1 506.9 1105.3 507.0 1105.6 507.0 1105.9 507.0 1106.1 507.0 1106.4 507.0 1106.7 507.0 1107.0 506.9 1107.2 506.9 1107.5 506.9 1107.8 506.9 1108.0 506.8 1108.3 506.8 1108.6 506.7 1108.8 506.5 1109.1 506.4 1109.4 506.3 1109.7 506.3 1109.9 506.3 1110.2 506.4 1110.5 506.6 1110.7 506.8 1111.0 507.0 1111.3 507.2 1111.5 507.4 1111.8 507.6 1112.1 507.6 1112.4 507.6 1112.6 507.6 1112.9 507.5 1113.2 507.4 1113.4 507.3 1113.7 507.3 1114.0 507.4 1114.2 507.5 1114.5 507.7 1114.8 507.8 1115.0 507.8 1115.3 507.6 1115.6 507.4 1115.9 507.1 1116.1 506.8 1116.4 506.6 1116.7 506.4 1116.9 506.4 1117.2 506.5 1117.5 506.7 1117.8 506.8 1118.0 506.9 1118.3 507.0 1118.6 507.0 1118.8 507.1 1119.1 507.1 1119.4 507.1 1119.6 507.1 1119.9 507.1 1120.2 507.1 1120.5 507.1 1120.7 507.1 1121.0 507.1 1121.3 507.1 1121.5 507.1 1121.8 507.0 1122.1 506.9 1122.3 506.9 1122.6 506.8 1122.9 506.8 1123.2 506.8 1123.4 506.8 1123.7 506.8 1124.0 506.8 1124.2 506.8 1124.5 506.8 1124.8 506.8 1125.0 506.8 1125.3 506.8 1125.6 506.7 1125.9 506.7 1126.1 506.7 1126.4 506.9 1126.7 507.0 1126.9 507.2 1127.2 507.4 1127.5 507.5 1127.7 507.4 1128.0 507.3 1128.3 507.1 1128.5 506.9 1128.8 506.6 1129.1 506.5 1129.4 506.4 1129.6 506.4 1129.9 506.5 1130.2 506.7 1130.4 506.9 1130.7 507.2 1131.0 507.5 1131.2 507.8 1131.5 508.0 1131.8 508.1 1132.1 508.1 1132.3 508.1 1132.6 507.9 1132.9 507.6 1133.1 507.3 1133.4 507.0 1133.7 506.8 1134.0 506.7 1134.2 506.6 1134.5 506.6 1134.8 506.6 1135.0 506.6 1135.3 506.7 1135.6 506.8 1135.8 506.9 1136.1 507.0 1136.4 507.0 1136.7 507.1 1136.9 507.1 1137.2 507.0 1137.5 507.0 1137.7 506.9 1138.0 506.9 1138.3 506.9 1138.5 507.0 1138.8 507.0 1139.1 507.0 1139.4 507.0 1139.6 507.0 1139.9 507.0 1140.2 507.0 1140.4 506.9 1140.7 506.9 1141.0 506.8 1141.2 506.8 1141.5 506.8 1141.8 506.8 1142.0 506.8 1142.3 506.7 1142.6 506.8 1142.9 506.8 1143.1 506.9 1143.4 507.1 1143.7 507.2 1143.9 507.3 1144.2 507.4 1144.5 507.4 1144.8 507.4 1145.0 507.3 1145.3 507.2 1145.6 507.1 1145.8 507.0 1146.1 506.9 1146.4 506.9 1146.6 506.8 1146.9 506.8 1147.2 506.8 1147.5 506.8 1147.7 506.9 1148.0 506.9 1148.3 507.0 1148.5 507.1 1148.8 507.2 1149.1 507.3 1149.3 507.3 1149.6 507.1 1149.9 506.9 1150.2 506.7 1150.4 506.5 1150.7 506.5 1151.0 506.5 1151.2 506.8 1151.5 507.1 1151.8 507.4 1152.0 507.6 1152.3 507.7 1152.6 507.7 1152.9 507.5 1153.1 507.3 1153.4 507.1 1153.7 506.9 1153.9 506.8 1154.2 506.8 1154.5 506.8 1154.7 506.8 1155.0 506.7 1155.3 506.7 1155.5 506.6 1155.8 506.6 1156.1 506.6 1156.4 506.6 1156.6 506.7 1156.9 506.9 1157.2 507.2 1157.4 507.6 1157.7 507.9 1158.0 508.2 1158.2 508.4 1158.5 508.3 1158.8 508.1 1159.1 507.8 1159.3 507.6 1159.6 507.3 1159.9 507.2 1160.1 507.2 1160.4 507.1 1160.7 507.1 1161.0 507.0 1161.2 506.9 1161.5 506.7 1161.8 506.6 1162.0 506.5 1162.3 506.5 1162.6 506.6 1162.8 506.8 1163.1 506.8 1163.4 506.9 1163.7 507.0 1163.9 507.1 1164.2 507.1 1164.5 507.1 1164.7 507.2 1165.0 507.2 1165.3 507.3 1165.5 507.3 1165.8 507.4 1166.1 507.4 1166.4 507.5 1166.6 507.4 1166.9 507.2 1167.2 507.0 1167.4 506.6 1167.7 506.3 1168.0 506.0 1168.2 505.8 1168.5 505.7 1168.8 505.7 1169.0 505.8 1169.3 506.0 1169.6 506.2 1169.9 506.5 1170.1 506.9 1170.4 507.2 1170.7 507.6 1170.9 508.0 1171.2 508.2 1171.5 508.3 1171.8 508.2 1172.0 508.0 1172.3 507.7 1172.6 507.3 1172.8 507.0 1173.1 506.8 1173.4 506.7 1173.6 506.7 1173.9 506.7 1174.2 506.8 1174.5 506.9 1174.7 507.0 1175.0 507.0 1175.3 507.0 1175.5 507.0 1175.8 507.0 1176.1 507.0 1176.3 506.9 1176.6 506.7 1176.9 506.5 1177.2 506.3 1177.4 506.3 1177.7 506.4 1178.0 506.7 1178.2 507.1 1178.5 507.6 1178.8 508.2 1179.0 508.5 1179.3 508.7 1179.6 508.6 1179.9 508.2 1180.1 507.8 1180.4 507.3 1180.7 506.9 1180.9 506.6 1181.2 506.4 1181.5 506.2 1181.7 506.2 1182.0 506.2 1182.3 506.2 1182.5 506.2 1182.8 506.2 1183.1 506.3 1183.4 506.3 1183.6 506.4 1183.9 506.4 1184.2 506.5 1184.4 506.6 1184.7 506.9 1185.0 507.1 1185.2 507.4 1185.5 507.6 1185.8 507.7 1186.1 507.5 1186.3 507.3 1186.6 507.2 1186.9 507.2 1187.1 507.1 1187.4 506.9 1187.7 506.7 1188.0 506.4 1188.2 506.3 1188.5 506.4 1188.8 506.7 1189.0 507.0 1189.3 507.3 1189.6 507.5 1189.8 507.6 1190.1 507.5 1190.4 507.3 1190.7 507.1 1190.9 506.9 1191.2 506.8 1191.5 506.8 1191.7 507.0 1192.0 507.3 1192.3 507.7 1192.5 508.2 1192.8 508.8 1193.1 509.2 1193.4 509.5 1193.6 509.4 1193.9 509.0 1194.2 508.1 1194.4 507.0 1194.7 505.7 1195.0 504.5 1195.2 503.6 1195.5 503.3 1195.8 503.5 1196.1 504.3 1196.3 505.4 1196.6 506.5 1196.9 507.4 1197.1 507.9 1197.4 508.0 1197.7 507.7 1197.9 507.2 1198.2 506.7 1198.5 506.3 1198.8 506.1 1199.0 506.1 1199.3 506.2 1199.6 506.4 1199.8 506.6 1200.1 506.8 1200.4 507.0 1200.6 507.1 1200.9 507.3 1201.2 507.4 1201.5 507.5 1201.7 507.6 1202.0 507.7 1202.3 507.6 1202.5 507.6 1202.8 507.4 1203.1 507.2 1203.3 507.0 1203.6 506.7 1203.9 506.5 1204.2 506.3 1204.4 506.2 1204.7 506.3 1205.0 506.5 1205.2 506.8 1205.5 507.0 1205.8 507.3 1206.0 507.4 1206.3 507.4 1206.6 507.3 1206.9 507.2 1207.1 507.0 1207.4 506.8 1207.7 506.6 1207.9 506.5 1208.2 506.6 1208.5 506.7 1208.7 506.8 1209.0 507.0 1209.3 507.2 1209.6 507.4 1209.8 507.4 1210.1 507.4 1210.4 507.4 1210.6 507.3 1210.9 507.1 1211.2 507.0 1211.4 506.9 1211.7 506.9 1212.0 506.8 1212.2 506.8 1212.5 506.8 1212.8 506.9 1213.1 506.9 1213.3 507.0 1213.6 507.0 1213.9 507.0 1214.1 507.0 1214.4 506.9 1214.7 506.9 1215.0 506.8 1215.2 506.8 1215.5 506.8 1215.8 506.8 1216.0 506.9 1216.3 507.1 1216.6 507.3 1216.8 507.6 1217.1 507.8 1217.4 508.0 1217.7 507.9 1217.9 507.8 1218.2 507.5 1218.5 507.1 1218.7 506.8 1219.0 506.5 1219.3 506.3 1219.5 506.3 1219.8 506.5 1220.1 506.7 1220.4 506.9 1220.6 507.2 1220.9 507.4 1221.2 507.6 1221.4 507.7 1221.7 507.8 1222.0 507.8 1222.2 507.7 1222.5 507.4 1222.8 507.1 1223.1 506.8 1223.3 506.4 1223.6 506.1 1223.9 505.9 1224.1 505.9 1224.4 505.9 1224.7 506.1 1224.9 506.4 1225.2 506.6 1225.5 506.8 1225.8 507.0 1226.0 507.1 1226.3 507.1 1226.6 507.0 1226.8 506.9 1227.1 506.8 1227.4 506.7 1227.6 506.7 1227.9 506.8 1228.2 507.0 1228.5 507.3 1228.7 507.5 1229.0 507.8 1229.3 508.0 1229.5 508.0 1229.8 507.9 1230.1 507.6 1230.3 507.3 1230.6 507.0 1230.9 506.9 1231.2 506.8 1231.4 506.8 1231.7 506.8 1232.0 506.7 1232.2 506.7 1232.5 506.9 1232.8 507.3 1233.0 507.8 1233.3 508.3 1233.6 508.7 1233.9 508.9 1234.1 508.7 1234.4 508.0 1234.7 507.0 1234.9 505.7 1235.2 504.4 1235.5 503.5 1235.7 503.2 1236.0 503.5 1236.3 504.3 1236.6 505.5 1236.8 506.7 1237.1 507.9 1237.4 508.9 1237.6 509.5 1237.9 509.8 1238.2 509.8 1238.4 509.5 1238.7 509.1 1239.0 508.5 1239.2 507.9 1239.5 507.4 1239.8 507.0 1240.1 506.8 1240.3 506.8 1240.6 506.9 1240.9 507.0 1241.1 507.1 1241.4 507.0 1241.7 506.9 1242.0 506.6 1242.2 506.3 1242.5 506.1 1242.8 505.9 1243.0 505.9 1243.3 506.0 1243.6 506.1 1243.8 506.4 1244.1 506.6 1244.4 506.8 1244.7 506.9 1244.9 507.0 1245.2 507.1 1245.5 507.2 1245.7 507.4 1246.0 507.6 1246.3 507.7 1246.5 507.9 1246.8 508.0 1247.1 507.9 1247.4 507.8 1247.6 507.5 1247.9 507.3 1248.2 507.1 1248.4 506.9 1248.7 506.8 1249.0 506.8 1249.2 506.8 1249.5 506.8 1249.8 506.8 1250.1 506.8 1250.3 506.8 1250.6 506.8 1250.9 506.7 1251.1 506.6 1251.4 506.5 1251.7 506.3 1251.9 506.3 1252.2 506.3 1252.5 506.4 1252.8 506.6 1253.0 507.0 1253.3 507.4 1253.6 507.7 1253.8 507.9 1254.1 508.0 1254.4 508.0 1254.6 507.8 1254.9 507.6 1255.2 507.5 1255.5 507.3 1255.7 507.2 1256.0 507.0 1256.3 506.7 1256.5 506.3 1256.8 505.9 1257.1 505.5 1257.3 505.2 1257.6 505.0 1257.9 505.0 1258.2 505.3 1258.4 505.8 1258.7 506.6 1259.0 507.4 1259.2 508.2 1259.5 508.9 1259.8 509.3 1260.0 509.3 1260.3 508.9 1260.6 508.2 1260.9 507.3 1261.1 506.5 1261.4 505.9 1261.7 505.5 1261.9 505.4 1262.2 505.6 1262.5 506.0 1262.7 506.5 1263.0 506.9 1263.3 507.2 1263.6 507.4 1263.8 507.4 1264.1 507.3 1264.4 507.2 1264.6 507.0 1264.9 506.9 1265.2 506.9 1265.4 506.9 1265.7 506.9 1266.0 506.9 1266.2 506.9 1266.5 506.9 1266.8 506.9 1267.1 506.9 1267.3 506.9 1267.6 506.9 1267.9 506.9 1268.1 506.9 1268.4 506.9 1268.7 506.9 1269.0 506.9 1269.2 506.9 1269.5 507.0 1269.8 507.0 1270.0 507.0 1270.3 507.0 1270.6 507.0 1270.8 507.1 1271.1 507.1 1271.4 507.2 1271.7 507.3 1271.9 507.3 1272.2 507.4 1272.5 507.4 1272.7 507.3 1273.0 507.2 1273.3 507.1 1273.5 506.9 1273.8 506.8 1274.1 506.8 1274.4 506.8 1274.6 506.8 1274.9 506.8 1275.2 506.9 1275.4 507.0 1275.7 507.1 1276.0 507.2 1276.2 507.3 1276.5 507.3 1276.8 507.3 1277.1 507.2 1277.3 507.1 1277.6 507.1 1277.9 507.0 1278.1 506.9 1278.4 506.8 1278.7 506.7 1278.9 506.7 1279.2 506.7 1279.5 506.6 1279.8 506.7 1280.0 506.7 1280.3 506.7 1280.6 506.8 1280.8 506.9 1281.1 507.0 1281.4 507.1 1281.6 507.1 1281.9 507.2 1282.2 507.1 1282.5 507.0 1282.7 507.0 1283.0 506.9 1283.3 506.9 1283.5 507.0 1283.8 507.1 1284.1 507.1 1284.3 507.1 1284.6 507.0 1284.9 506.9 1285.2 506.7 1285.4 506.6 1285.7 506.6 1286.0 506.7 1286.2 506.8 1286.5 506.9 1286.8 507.0 1287.0 507.0 1287.3 506.9 1287.6 506.7 1287.9 506.4 1288.1 505.9 1288.4 505.3 1288.7 504.6 1288.9 503.8 1289.2 503.0 1289.5 502.3 1289.7 501.6 1290.0 501.0 1290.3 500.7 1290.6 500.6 1290.8 500.7 1291.1 501.1 1291.4 501.7 1291.6 502.4 1291.9 503.3 1292.2 504.1 1292.4 504.9 1292.7 505.6 1293.0 506.1 1293.2 506.6 1293.5 507.0 1293.8 507.2 1294.1 507.4 1294.3 507.5 1294.6 507.6 1294.9 507.6 1295.1 507.7 1295.4 507.6 1295.7 507.4 1296.0 507.1 1296.2 506.6 1296.5 506.2 1296.8 505.8 1297.0 505.6" fill="none" stroke="#d0d000" stroke-width="2.2" stroke-linejoin="round"/>
<path d="M331 689.9L1303.6 719.3" fill="none" stroke="#ff0000" stroke-width="4" stroke-linecap="round"/>
<path d="M324.9 776.9 326.9 764.6 328.35 740.7 329.8 716.8 331.8 720.5 333.43 734.6 335.07 762.8 336.7 776.9 338.07 766.77 339.43 746.52 340.8 736.4 342.1 737.6 343.65 762.15 345.2 786.7 346.5 787.9 348.13 765.52 349.77 720.77 351.4 698.4 353.03 725.98 354.67 781.12 356.3 808.7 357.82 789.85 359.35 744.35 360.88 698.85 362.4 680 364.03 715.25 365.67 785.75 367.3 821 368.82 801.26 370.35 753.6 371.88 705.94 373.4 686.2 375.2 715.3 377 773.5 378.8 802.6 380.35 796.44 381.9 779.62 383.45 756.65 385 733.68 386.55 716.86 388.1 710.7 389.78 725.05 391.45 759.7 393.12 794.35 394.8 808.7 396.43 778.08 398.07 716.83 399.7 686.2 401.23 706.29 402.75 754.8 404.27 803.31 405.8 823.4 407.6 786.95 409.4 714.05 411.2 677.6 412.77 697.88 414.35 746.85 415.93 795.82 417.5 816.1 419.17 789.12 420.83 735.18 422.5 708.2 424.13 721.08 425.77 746.83 427.4 759.7 428.85 751.1 430.3 742.5 431.77 753.85 433.23 776.55 434.7 787.9 436.5 764.62 438.3 718.07 440.1 694.8 441.73 726.05 443.37 788.55 445 819.8 446.8 788.55 448.6 726.05 450.4 694.8 451.92 703.69 453.44 726.97 454.96 755.73 456.48 779.01 458 787.9 459.63 773.8 461.27 745.6 462.9 731.5 464.7 739.77 466.5 756.33 468.3 764.6 470.17 761.85 472.03 756.35 473.9 753.6 475.7 742.88 477.5 721.43 479.3 710.7 480.93 732.45 482.57 775.95 484.2 797.7 485.73 784.17 487.25 751.5 488.77 718.83 490.3 705.3 491.93 727.47 493.57 771.82 495.2 794 496.83 772.88 498.47 730.62 500.1 709.5 501.73 732.48 503.37 778.42 505 801.4 506.67 777.2 508.33 728.8 510 704.6 511.47 720.83 512.93 753.27 514.4 769.5 515.8 761.23 517.2 744.67 518.6 736.4 519.97 751.1 521.33 780.5 522.7 795.2 524.3 781.74 525.9 749.25 527.5 716.76 529.1 703.3 530.75 716.04 532.4 746.8 534.05 777.56 535.7 790.3 537.33 763.35 538.97 709.45 540.6 682.5 542.15 707.63 543.7 768.3 545.25 828.97 546.8 854.1 548.6 800.18 550.4 692.33 552.2 638.4 553.83 691.1 555.47 796.5 557.1 849.2 558.97 800.78 560.83 703.93 562.7 655.5 564.5 702.38 566.3 796.12 568.1 843 569.8 804.73 571.5 728.17 573.2 689.9 574.75 703.89 576.3 737.65 577.85 771.41 579.4 785.4 580.96 779.9 582.52 765.5 584.08 747.7 585.64 733.3 587.2 727.8 588.73 734.99 590.25 752.35 591.77 769.71 593.3 776.9 595.02 767.75 596.75 745.65 598.48 723.55 600.2 714.4 601.85 728.21 603.5 761.55 605.15 794.89 606.8 808.7 608.22 793.45 609.65 756.65 611.08 719.85 612.5 704.6 614.27 722.05 616.03 756.95 617.8 774.4 619.3 767.05 620.8 752.35 622.3 745 624 752.35 625.7 759.7 627.57 749.28 629.43 728.43 631.3 718 632.85 732.37 634.4 767.05 635.95 801.73 637.5 816.1 639.27 779.02 641.03 704.88 642.8 667.8 644.22 696.33 645.65 765.2 647.08 834.07 648.5 862.6 650.15 829.77 651.8 750.5 653.45 671.23 655.1 638.4 656.8 692.92 658.5 801.97 660.2 856.5 661.88 831.91 663.55 772.55 665.23 713.19 666.9 688.6 668.53 712.2 670.17 759.4 671.8 783 673.32 773.48 674.85 750.5 676.38 727.52 677.9 718 679.77 730.57 681.63 755.72 683.5 768.3 684.9 764.92 686.3 758.17 687.7 754.8 689.33 758.47 690.97 765.82 692.6 769.5 694.47 756.95 696.33 731.85 698.2 719.3 700.03 731.25 701.87 755.15 703.7 767.1 705.42 764.17 707.14 756.49 708.86 747.01 710.58 739.33 712.3 736.4 713.93 747.75 715.57 770.45 717.2 781.8 718.73 772.11 720.25 748.7 721.77 725.29 723.3 715.6 725.17 730.6 727.03 760.6 728.9 775.6 730.42 770.11 731.95 756.85 733.48 743.59 735 738.1 736.58 739.93 738.16 744.73 739.74 750.67 741.32 755.47 742.9 757.3 744.75 751.4 746.6 745.5 748.23 752.42 749.87 766.27 751.5 773.2 753.13 762.78 754.77 741.93 756.4 731.5 758.03 740.4 759.67 758.2 761.3 767.1 762.82 761.17 764.35 746.85 765.88 732.53 767.4 726.6 768.92 733.89 770.45 751.5 771.98 769.11 773.5 776.4 775.3 764.25 777.1 739.95 778.9 727.8 780.33 735.34 781.75 753.55 783.17 771.76 784.6 779.3 786.12 770.69 787.65 749.9 789.18 729.11 790.7 720.5 792.23 726.96 793.75 742.55 795.27 758.14 796.8 764.6 798.43 759.4 800.07 749 801.7 743.8 803.23 749.17 804.75 762.15 806.27 775.13 807.8 780.5 809.43 762.43 811.07 726.28 812.7 708.2 814.5 727.5 816.3 766.1 818.1 785.4 819.57 765.2 821.03 724.8 822.5 704.6 824.05 718.95 825.6 753.6 827.15 788.25 828.7 802.6 830.23 789.68 831.75 758.5 833.27 727.32 834.8 714.4 836.6 732.15 838.4 767.65 840.2 785.4 841.8 772.66 843.4 741.9 845 711.14 846.6 698.4 848.08 715.64 849.55 757.25 851.02 798.86 852.5 816.1 854.2 796.71 855.9 749.9 857.6 703.09 859.3 683.7 861.1 720.77 862.9 794.92 864.7 832 866.23 804.91 867.75 739.5 869.27 674.09 870.8 647 872.53 697.85 874.27 799.55 876 850.4 877.65 824.38 879.3 761.55 880.95 698.72 882.6 672.7 884.08 687.56 885.56 726.46 887.04 774.54 888.52 813.44 890 828.3 891.52 805.86 893.05 751.7 894.58 697.54 896.1 675.1 897.52 693.05 898.95 736.4 900.38 779.75 901.8 797.7 903.25 787.46 904.7 762.75 906.15 738.04 907.6 727.8 909.33 736.6 911.05 757.85 912.77 779.1 914.5 787.9 916.23 774 917.95 740.45 919.67 706.9 921.4 693 922.92 706.9 924.45 740.45 925.98 774 927.5 787.9 929.27 780.36 931.05 762.15 932.83 743.94 934.6 736.4 936.47 745.6 938.33 764 940.2 773.2 941.62 764.33 943.05 742.9 944.48 721.47 945.9 712.6 947.27 725.3 948.63 750.7 950 763.4 951.6 758.5 953.2 753.6 954.83 761.75 956.47 778.05 958.1 786.2 959.9 764.75 961.7 721.85 963.5 700.4 965.13 722.88 966.77 767.82 968.4 790.3 969.95 777.93 971.5 748.05 973.05 718.17 974.6 705.8 976.47 731.52 978.33 782.98 980.2 808.7 981.68 793.26 983.15 756 984.62 718.74 986.1 703.3 987.73 718.62 989.37 749.27 991 764.6 992.62 762.15 994.24 755.72 995.86 747.78 997.48 741.35 999.1 738.9 1000.73 755.12 1002.37 787.57 1004 803.8 1005.52 785.14 1007.05 740.1 1008.58 695.06 1010.1 676.4 1011.9 714.38 1013.7 790.32 1015.5 828.3 1017.37 785.73 1019.23 700.58 1021.1 658 1022.52 688.15 1023.95 760.95 1025.38 833.75 1026.8 863.9 1028.25 833.03 1029.7 758.5 1031.15 683.97 1032.6 653.1 1034.33 697.83 1036.07 787.27 1037.8 832 1039.45 805.8 1041.1 742.55 1042.75 679.3 1044.4 653.1 1045.93 682.17 1047.45 752.35 1048.97 822.53 1050.5 851.6 1052.17 826.47 1053.85 765.8 1055.53 705.13 1057.2 680 1058.9 718.62 1060.6 795.88 1062.3 834.5 1064.1 788.1 1065.9 695.3 1067.7 648.9 1069.22 677.15 1070.75 745.35 1072.28 813.55 1073.8 841.8 1075.43 807.05 1077.07 737.55 1078.7 702.8 1080.1 726.52 1081.5 773.98 1082.9 797.7 1084.5 784.78 1086.1 753.6 1087.7 722.42 1089.3 709.5 1091.1 720.7 1092.9 743.1 1094.7 754.3 1096.2 749.05 1097.7 743.8 1099.28 751.17 1100.85 768.95 1102.42 786.73 1104 794.1 1105.8 774.48 1107.6 735.23 1109.4 715.6 1110.93 724.04 1112.45 744.4 1113.97 764.76 1115.5 773.2 1117.3 754.83 1119.1 718.08 1120.9 699.7 1122.45 718.01 1124 762.2 1125.55 806.39 1127.1 824.7 1128.67 807.83 1130.25 767.1 1131.83 726.37 1133.4 709.5 1134.95 718.83 1136.5 741.35 1138.05 763.87 1139.6 773.2 1141.4 757.88 1143.2 727.23 1145 711.9 1146.65 725.37 1148.3 757.9 1149.95 790.43 1151.6 803.9 1153.2 789.36 1154.8 754.25 1156.4 719.14 1158 704.6 1159.45 715.36 1160.9 741.35 1162.35 767.34 1163.8 778.1 1165.53 767.38 1167.27 745.93 1169 735.2 1170.63 744.4 1172.27 762.8 1173.9 772 1175.38 765.64 1176.85 750.3 1178.33 734.96 1179.8 728.6 1181.27 734.85 1182.73 747.35 1184.2 753.6 1186.05 748.1 1187.9 742.6 1189.7 755.77 1191.5 782.12 1193.3 795.3 1195.17 774.45 1197.03 732.75 1198.9 711.9 1200.53 727.23 1202.17 757.88 1203.8 773.2 1205.2 756.05 1206.6 721.75 1208 704.6 1209.53 720.93 1211.05 760.35 1212.57 799.77 1214.1 816.1 1215.97 786.08 1217.83 726.02 1219.7 696 1221.33 725.73 1222.97 785.17 1224.6 814.9 1226.1 781.8 1227.6 715.6 1229.1 682.5 1230.87 708.85 1232.63 761.55 1234.4 787.9 1236.07 772.27 1237.73 741.02 1239.4 725.4 1241.05 736.9 1242.7 764.65 1244.35 792.4 1246 803.9 1247.7 786.49 1249.4 744.45 1251.1 702.41 1252.8 685 1254.35 702.76 1255.9 745.65 1257.45 788.54 1259 806.3 1260.87 772.77 1262.73 705.73 1264.6 672.2 1266.12 699.92 1267.65 766.85 1269.17 833.78 1270.7 861.5 1272.5 808.48 1274.3 702.42 1276.1 649.4 1277.7 673.64 1279.3 732.15 1280.9 790.66 1282.5 814.9 1283.97 797.49 1285.45 755.45 1286.93 713.41 1288.4 696 1290.27 726.95 1292.13 788.85 1294 819.8 1295.7 787.9" fill="none" stroke="#c0c0c0" stroke-width="2" stroke-linejoin="round"/>
<path d="M1135.1 638.8H1296.7M1135.1 631.6V645.8M1296.7 631.6V645.8" fill="none" stroke="#c0c0c0" stroke-width="4.4"/>
<path d="M211.6 486.8V526.5M204.4 486.8H218.8M204.4 526.5H218.8" fill="none" stroke="#c0c0c0" stroke-width="2.3"/>
<circle cx="211.6" cy="506.8" r="4.1" fill="#000"/>
<rect x="167" y="18.5" width="372.5" height="163" fill="#fff" stroke="#777" stroke-width="1"/>
<path d="M204.1 39.3H260.1" stroke="#5050ff" stroke-width="1"/>
<circle cx="232.2" cy="39.3" r="4.2" fill="#0000ff"/>
<path d="M204.1 69.4H260.1" stroke="#40d0d0" stroke-width="1"/>
<circle cx="232.2" cy="69.4" r="4.2" fill="#10c8c8"/>
<path d="M204.1 100.1H260.1" stroke="#000" stroke-width="3"/>
<path d="M204.1 130.4H260.1" stroke="#c0c0c0" stroke-width="3"/>
<path d="M204.1 161.2H260.1" stroke="#ff5050" stroke-width="1"/>
<circle cx="232.2" cy="161.2" r="4.2" fill="#ff0000"/>
<text x="279" y="48" font-size="24">Pressure</text>
<text x="279" y="78.4" font-size="24">dP/dt</text>
<text x="279" y="109.2" font-size="24">Residual</text>
<text x="279" y="139" font-size="24">... last 10 min.</text>
<text x="279" y="169.8" font-size="24">Theor.Tide</text>
<g fill="#000">
<text x="559.3" y="82" font-size="32.3" font-weight="bold">SCG_054 gravimeter Onsala Space Observatory, Sweden</text>
<text x="1077.6" y="154" font-size="24" font-weight="bold">Stand-in barom. 20m</text>
<text x="192.3" y="888" font-size="28" font-weight="bold">The latest 1-hour, 1-second sampling</text>
<text x="1431" y="888" font-size="28" font-weight="bold" text-anchor="end">End at 2025-03-06 14:00:59 UTC</text>
<text x="358.9" y="1006" font-size="48.15">Time [min] from 2025-03-06 13:01:00 UTC</text>
<text x="163.3" y="943.7" font-size="28" text-anchor="middle">-10</text>
<text x="325.3" y="943.7" font-size="28" text-anchor="middle">0</text>
<text x="487.3" y="943.7" font-size="28" text-anchor="middle">10</text>
<text x="649.3" y="943.7" font-size="28" text-anchor="middle">20</text>
<text x="811.3" y="943.7" font-size="28" text-anchor="middle">30</text>
<text x="973.3" y="943.7" font-size="28" text-anchor="middle">40</text>
<text x="1135.3" y="943.7" font-size="28" text-anchor="middle">50</text>
<text x="1297.3" y="943.7" font-size="28" text-anchor="middle">60</text>
<text x="1459.3" y="943.7" font-size="28" text-anchor="middle">70</text>
<text x="141.5" y="913.1" font-size="28" text-anchor="end">-400</text>
<text x="141.5" y="814.1" font-size="28" text-anchor="end">-300</text>
<text x="141.5" y="715.1" font-size="28" text-anchor="end">-200</text>
<text x="141.5" y="616.1" font-size="28" text-anchor="end">-100</text>
<text x="141.5" y="517.1" font-size="28" text-anchor="end">0</text>
<text x="141.5" y="418.1" font-size="28" text-anchor="end">100</text>
<text x="141.5" y="319.1" font-size="28" text-anchor="end">200</text>
<text x="141.5" y="220.1" font-size="28" text-anchor="end">300</text>
<text x="141.5" y="121.1" font-size="28" text-anchor="end">400</text>
<text x="1481" y="437.14" font-size="28">1010.8</text>
<text x="1481" y="357.66" font-size="28">1011.2</text>
<text x="1481" y="278.18" font-size="28">1011.6</text>
<text x="1481" y="198.7" font-size="28">1012.0</text>
<text x="1550" y="913" font-size="28" text-anchor="end">-1500</text>
<text x="1550" y="846.9" font-size="28" text-anchor="end">-1000</text>
<text x="1550" y="780.8" font-size="28" text-anchor="end">-500</text>
<text x="1550" y="714.7" font-size="28" text-anchor="end">0</text>
<text x="1550" y="648.6" font-size="28" text-anchor="end">500</text>
<text x="1550" y="582.5" font-size="28" text-anchor="end">1000</text>
<text transform="translate(59.5 733.2) rotate(-90)" font-size="48">Obs’d Gravity [nm/s<tspan font-size="33.6" dy="-16.6">2</tspan><tspan dy="16.6">]</tspan></text>
<text transform="translate(1626.9 467.7) rotate(-90)" font-size="48">Pressure [hPa]</text>
<text transform="translate(1612.9 831.7) rotate(-90)" font-size="48">Tide [nm/s<tspan font-size="33.6" dy="-16.6" dx="0.8">2</tspan><tspan dy="16.6" dx="1">]</tspan></text>
<text transform="translate(1386.9 393.8) rotate(-90)" font-size="24">1 DIV = 1 hPa/h</text>
<text transform="translate(1426.9 402.8) rotate(-90)" font-size="24">average = 0.0599</text>
<text transform="translate(243.8 605.1) rotate(-90)" font-size="24">Typical noise level</text>
</g>
</svg>
</body></html>
